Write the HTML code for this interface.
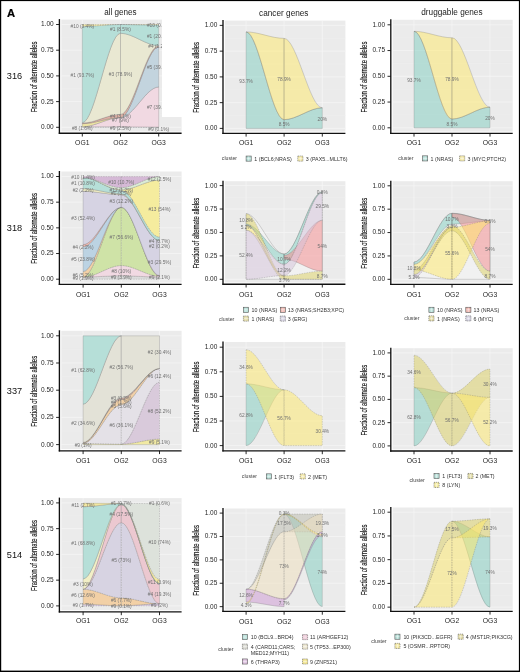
<!DOCTYPE html><html><head><meta charset="utf-8"><title>Figure A</title><style>html,body{margin:0;padding:0;background:#fff}svg{display:block;will-change:transform}text{font-family:"Liberation Sans", sans-serif}</style></head><body>
<svg width="520" height="672" viewBox="0 0 520 672">
<rect x="0" y="0" width="520" height="672" fill="#fff"/>
<rect x="61.3" y="19.6" width="120.3" height="111.9" fill="#ebebeb"/>
<line x1="61.3" x2="181.6" y1="114.45" y2="114.45" stroke="#f1f1f1" stroke-width="0.4"/>
<line x1="61.3" x2="181.6" y1="88.75" y2="88.75" stroke="#f1f1f1" stroke-width="0.4"/>
<line x1="61.3" x2="181.6" y1="63.05" y2="63.05" stroke="#f1f1f1" stroke-width="0.4"/>
<line x1="61.3" x2="181.6" y1="37.35" y2="37.35" stroke="#f1f1f1" stroke-width="0.4"/>
<line x1="61.3" x2="181.6" y1="127.3" y2="127.3" stroke="#f6f6f6" stroke-width="0.75"/>
<line x1="61.3" x2="181.6" y1="101.6" y2="101.6" stroke="#f6f6f6" stroke-width="0.75"/>
<line x1="61.3" x2="181.6" y1="75.9" y2="75.9" stroke="#f6f6f6" stroke-width="0.75"/>
<line x1="61.3" x2="181.6" y1="50.2" y2="50.2" stroke="#f6f6f6" stroke-width="0.75"/>
<line x1="61.3" x2="181.6" y1="24.5" y2="24.5" stroke="#f6f6f6" stroke-width="0.75"/>
<line x1="82.3" x2="82.3" y1="19.6" y2="131.5" stroke="#f6f6f6" stroke-width="0.75"/>
<line x1="120.5" x2="120.5" y1="19.6" y2="131.5" stroke="#f6f6f6" stroke-width="0.75"/>
<line x1="158.7" x2="158.7" y1="19.6" y2="131.5" stroke="#f6f6f6" stroke-width="0.75"/>
<path d="M82.3 126.79 C95.03 126.79 107.77 126.79 120.5 126.79 L120.5 127.3 C107.77 127.3 95.03 127.3 82.3 127.3 Z" fill="#e2dbe8" fill-opacity="1.0" stroke="#6e6e6e" stroke-opacity="0.6" stroke-width="0.45" stroke-dasharray="1.6 0.9"/>
<path d="M120.5 126.79 C133.23 126.79 145.97 127.09 158.7 127.09 L158.7 127.3 C145.97 127.3 133.23 127.3 120.5 127.3 Z" fill="#e2dbe8" fill-opacity="1.0" stroke="#6e6e6e" stroke-opacity="0.6" stroke-width="0.45" stroke-dasharray="1.6 0.9"/>
<path d="M82.3 126.79 C95.03 126.79 107.77 117.53 120.5 117.53 L120.5 126.79 C107.77 126.79 95.03 126.79 82.3 126.79 Z" fill="#f1d9e2" fill-opacity="1.0" stroke="#6e6e6e" stroke-opacity="0.6" stroke-width="0.45"/>
<path d="M120.5 117.53 C133.23 117.53 145.97 87 158.7 87 L158.7 127.09 C145.97 127.09 133.23 126.79 120.5 126.79 Z" fill="#f1d9e2" fill-opacity="1.0" stroke="#6e6e6e" stroke-opacity="0.6" stroke-width="0.45"/>
<path d="M82.3 123.7 C95.03 123.7 107.77 117.53 120.5 117.53 L120.5 117.53 C107.77 117.53 95.03 126.79 82.3 126.79 Z" fill="#eee4a4" fill-opacity="1.0" stroke="#6e6e6e" stroke-opacity="0.6" stroke-width="0.45"/>
<path d="M120.5 117.53 C133.23 117.53 145.97 46.91 158.7 46.91 L158.7 87 C145.97 87 133.23 117.53 120.5 117.53 Z" fill="#c3d4de" fill-opacity="1.0" stroke="#6e6e6e" stroke-opacity="0.6" stroke-width="0.45"/>
<path d="M82.3 123.09 C95.03 123.09 107.77 114.35 120.5 114.35 L120.5 117.53 C107.77 117.53 95.03 123.7 82.3 123.7 Z" fill="#dcb0a4" fill-opacity="1.0" stroke="#6e6e6e" stroke-opacity="0.6" stroke-width="0.45"/>
<path d="M120.5 114.35 C133.23 114.35 145.97 45.68 158.7 45.68 L158.7 46.91 C145.97 46.91 133.23 117.53 120.5 117.53 Z" fill="#dcb0a4" fill-opacity="1.0" stroke="#6e6e6e" stroke-opacity="0.6" stroke-width="0.45"/>
<path d="M82.3 122.67 C95.03 122.67 107.77 33.24 120.5 33.24 L120.5 114.35 C107.77 114.35 95.03 123.09 82.3 123.09 Z" fill="#e9e8d2" fill-opacity="1.0" stroke="#6e6e6e" stroke-opacity="0.6" stroke-width="0.45"/>
<path d="M120.5 33.24 C133.23 33.24 145.97 45.68 158.7 45.68 L158.7 45.68 C145.97 45.68 133.23 114.35 120.5 114.35 Z" fill="#e9e8d2" fill-opacity="1.0" stroke="#6e6e6e" stroke-opacity="0.6" stroke-width="0.45"/>
<path d="M82.3 26.35 C95.03 26.35 107.77 24.5 120.5 24.5 L120.5 33.24 C107.77 33.24 95.03 122.67 82.3 122.67 Z" fill="#b6dfd8" fill-opacity="1.0" stroke="#6e6e6e" stroke-opacity="0.6" stroke-width="0.45"/>
<path d="M120.5 24.5 C133.23 24.5 145.97 25.12 158.7 25.12 L158.7 45.68 C145.97 45.68 133.23 33.24 120.5 33.24 Z" fill="#b6dfd8" fill-opacity="1.0" stroke="#6e6e6e" stroke-opacity="0.6" stroke-width="0.45"/>
<path d="M82.3 24.5 C95.03 24.5 107.77 24.5 120.5 24.5 L120.5 24.5 C107.77 24.5 95.03 26.35 82.3 26.35 Z" fill="#f0e6a0" fill-opacity="1.0" stroke="#6e6e6e" stroke-opacity="0.6" stroke-width="0.45" stroke-dasharray="1.6 0.9"/>
<path d="M120.5 24.5 C133.23 24.5 145.97 24.5 158.7 24.5 L158.7 25.12 C145.97 25.12 133.23 24.5 120.5 24.5 Z" fill="#f0e6a0" fill-opacity="1.0" stroke="#6e6e6e" stroke-opacity="0.6" stroke-width="0.45" stroke-dasharray="1.6 0.9"/>
<text x="120.5" y="128" font-size="4.8" fill="#707070" text-anchor="middle" dominant-baseline="central">#9 (2.5%)</text>
<text x="158.7" y="129.03" font-size="4.8" fill="#707070" text-anchor="middle" dominant-baseline="central">#9 (0.1%)</text>
<text x="120.5" y="120.6" font-size="4.8" fill="#707070" text-anchor="middle" dominant-baseline="central">#7 (9%)</text>
<text x="158.7" y="107.75" font-size="4.8" fill="#707070" text-anchor="middle" dominant-baseline="central">#7 (39.1%)</text>
<text x="82.3" y="128" font-size="4.8" fill="#707070" text-anchor="middle" dominant-baseline="central">#8 (1.6%)</text>
<text x="158.7" y="67.66" font-size="4.8" fill="#707070" text-anchor="middle" dominant-baseline="central">#5 (39.1%)</text>
<text x="120.5" y="116.08" font-size="4.8" fill="#707070" text-anchor="middle" dominant-baseline="central">#4 (3.1%)</text>
<text x="158.7" y="46.07" font-size="4.8" fill="#707070" text-anchor="middle" dominant-baseline="central">#4 (1.2%)</text>
<text x="120.5" y="74.49" font-size="4.8" fill="#707070" text-anchor="middle" dominant-baseline="central">#3 (78.9%)</text>
<text x="82.3" y="75.21" font-size="4.8" fill="#707070" text-anchor="middle" dominant-baseline="central">#1 (93.7%)</text>
<text x="120.5" y="29.57" font-size="4.8" fill="#707070" text-anchor="middle" dominant-baseline="central">#1 (8.5%)</text>
<text x="158.7" y="36.1" font-size="4.8" fill="#707070" text-anchor="middle" dominant-baseline="central">#1 (20.1%)</text>
<text x="82.3" y="26.02" font-size="4.8" fill="#707070" text-anchor="middle" dominant-baseline="central">#10 (3.4%)</text>
<text x="158.7" y="25.51" font-size="4.8" fill="#707070" text-anchor="middle" dominant-baseline="central">#10 (0.6%)</text>
<line x1="59.4" x2="59.4" y1="19.1" y2="133.85" stroke="#111" stroke-width="1.35"/>
<line x1="58.75" x2="181.6" y1="133.2" y2="133.2" stroke="#111" stroke-width="1.35"/>
<line x1="56.1" x2="59.4" y1="127.3" y2="127.3" stroke="#111" stroke-width="0.9"/>
<text x="53.7" y="126.7" font-size="6.5" fill="#262626" text-anchor="end" dominant-baseline="central">0.00</text>
<line x1="56.1" x2="59.4" y1="101.6" y2="101.6" stroke="#111" stroke-width="0.9"/>
<text x="53.7" y="101" font-size="6.5" fill="#262626" text-anchor="end" dominant-baseline="central">0.25</text>
<line x1="56.1" x2="59.4" y1="75.9" y2="75.9" stroke="#111" stroke-width="0.9"/>
<text x="53.7" y="75.3" font-size="6.5" fill="#262626" text-anchor="end" dominant-baseline="central">0.50</text>
<line x1="56.1" x2="59.4" y1="50.2" y2="50.2" stroke="#111" stroke-width="0.9"/>
<text x="53.7" y="49.6" font-size="6.5" fill="#262626" text-anchor="end" dominant-baseline="central">0.75</text>
<line x1="56.1" x2="59.4" y1="24.5" y2="24.5" stroke="#111" stroke-width="0.9"/>
<text x="53.7" y="23.9" font-size="6.5" fill="#262626" text-anchor="end" dominant-baseline="central">1.00</text>
<line x1="82.3" x2="82.3" y1="133.2" y2="136.5" stroke="#111" stroke-width="0.9"/>
<text x="82.3" y="142.3" font-size="6.8" fill="#262626" text-anchor="middle" dominant-baseline="central">OG1</text>
<line x1="120.5" x2="120.5" y1="133.2" y2="136.5" stroke="#111" stroke-width="0.9"/>
<text x="120.5" y="142.3" font-size="6.8" fill="#262626" text-anchor="middle" dominant-baseline="central">OG2</text>
<line x1="158.7" x2="158.7" y1="133.2" y2="136.5" stroke="#111" stroke-width="0.9"/>
<text x="158.7" y="142.3" font-size="6.8" fill="#262626" text-anchor="middle" dominant-baseline="central">OG3</text>
<text transform="translate(33.6 76.9) rotate(-90)" font-size="8.6" fill="#141414" stroke="#141414" stroke-width="0.15" text-anchor="middle" dominant-baseline="central" textLength="70.8" lengthAdjust="spacingAndGlyphs">Fraction of alternate alleles</text>
<rect x="162" y="15" width="28" height="102" fill="#fff"/>
<rect x="224.9" y="20.6" width="120.5" height="111" fill="#ebebeb"/>
<line x1="224.9" x2="345.4" y1="115.53" y2="115.53" stroke="#f1f1f1" stroke-width="0.4"/>
<line x1="224.9" x2="345.4" y1="89.78" y2="89.78" stroke="#f1f1f1" stroke-width="0.4"/>
<line x1="224.9" x2="345.4" y1="64.03" y2="64.03" stroke="#f1f1f1" stroke-width="0.4"/>
<line x1="224.9" x2="345.4" y1="38.28" y2="38.28" stroke="#f1f1f1" stroke-width="0.4"/>
<line x1="224.9" x2="345.4" y1="128.4" y2="128.4" stroke="#f6f6f6" stroke-width="0.75"/>
<line x1="224.9" x2="345.4" y1="102.65" y2="102.65" stroke="#f6f6f6" stroke-width="0.75"/>
<line x1="224.9" x2="345.4" y1="76.9" y2="76.9" stroke="#f6f6f6" stroke-width="0.75"/>
<line x1="224.9" x2="345.4" y1="51.15" y2="51.15" stroke="#f6f6f6" stroke-width="0.75"/>
<line x1="224.9" x2="345.4" y1="25.4" y2="25.4" stroke="#f6f6f6" stroke-width="0.75"/>
<line x1="246.1" x2="246.1" y1="20.6" y2="131.6" stroke="#f6f6f6" stroke-width="0.75"/>
<line x1="284.1" x2="284.1" y1="20.6" y2="131.6" stroke="#f6f6f6" stroke-width="0.75"/>
<line x1="322.3" x2="322.3" y1="20.6" y2="131.6" stroke="#f6f6f6" stroke-width="0.75"/>
<path d="M246.1 31.89 C258.77 31.89 271.43 119.65 284.1 119.65 L284.1 128.4 C271.43 128.4 258.77 128.4 246.1 128.4 Z" fill="#80cdbf" fill-opacity="0.5" stroke="#6e6e6e" stroke-opacity="0.6" stroke-width="0.45"/>
<path d="M284.1 119.65 C296.83 119.65 309.57 107.8 322.3 107.8 L322.3 128.4 C309.57 128.4 296.83 128.4 284.1 128.4 Z" fill="#80cdbf" fill-opacity="0.5" stroke="#6e6e6e" stroke-opacity="0.6" stroke-width="0.45"/>
<path d="M246.1 31.89 C258.77 31.89 271.43 38.38 284.1 38.38 L284.1 119.65 C271.43 119.65 258.77 31.89 246.1 31.89 Z" fill="#ffe968" fill-opacity="0.5" stroke="#6e6e6e" stroke-opacity="0.6" stroke-width="0.45"/>
<path d="M284.1 38.38 C296.83 38.38 309.57 107.8 322.3 107.8 L322.3 107.8 C309.57 107.8 296.83 119.65 284.1 119.65 Z" fill="#ffe968" fill-opacity="0.5" stroke="#6e6e6e" stroke-opacity="0.6" stroke-width="0.45"/>
<text x="246.1" y="81.2" font-size="4.8" fill="#707070" text-anchor="middle" dominant-baseline="central">93.7%</text>
<text x="284.1" y="79.66" font-size="4.8" fill="#707070" text-anchor="middle" dominant-baseline="central">78.9%</text>
<text x="284.1" y="124.98" font-size="4.8" fill="#707070" text-anchor="middle" dominant-baseline="central">8.5%</text>
<text x="322.3" y="119.32" font-size="4.8" fill="#707070" text-anchor="middle" dominant-baseline="central">20%</text>
<line x1="223" x2="223" y1="20.1" y2="133.95" stroke="#111" stroke-width="1.35"/>
<line x1="222.35" x2="345.4" y1="133.3" y2="133.3" stroke="#111" stroke-width="1.35"/>
<line x1="219.7" x2="223" y1="128.4" y2="128.4" stroke="#111" stroke-width="0.9"/>
<text x="217.3" y="127.8" font-size="6.5" fill="#262626" text-anchor="end" dominant-baseline="central">0.00</text>
<line x1="219.7" x2="223" y1="102.65" y2="102.65" stroke="#111" stroke-width="0.9"/>
<text x="217.3" y="102.05" font-size="6.5" fill="#262626" text-anchor="end" dominant-baseline="central">0.25</text>
<line x1="219.7" x2="223" y1="76.9" y2="76.9" stroke="#111" stroke-width="0.9"/>
<text x="217.3" y="76.3" font-size="6.5" fill="#262626" text-anchor="end" dominant-baseline="central">0.50</text>
<line x1="219.7" x2="223" y1="51.15" y2="51.15" stroke="#111" stroke-width="0.9"/>
<text x="217.3" y="50.55" font-size="6.5" fill="#262626" text-anchor="end" dominant-baseline="central">0.75</text>
<line x1="219.7" x2="223" y1="25.4" y2="25.4" stroke="#111" stroke-width="0.9"/>
<text x="217.3" y="24.8" font-size="6.5" fill="#262626" text-anchor="end" dominant-baseline="central">1.00</text>
<line x1="246.1" x2="246.1" y1="133.3" y2="136.6" stroke="#111" stroke-width="0.9"/>
<text x="246.1" y="142.4" font-size="6.8" fill="#262626" text-anchor="middle" dominant-baseline="central">OG1</text>
<line x1="284.1" x2="284.1" y1="133.3" y2="136.6" stroke="#111" stroke-width="0.9"/>
<text x="284.1" y="142.4" font-size="6.8" fill="#262626" text-anchor="middle" dominant-baseline="central">OG2</text>
<line x1="322.3" x2="322.3" y1="133.3" y2="136.6" stroke="#111" stroke-width="0.9"/>
<text x="322.3" y="142.4" font-size="6.8" fill="#262626" text-anchor="middle" dominant-baseline="central">OG3</text>
<text transform="translate(196.2 77.45) rotate(-90)" font-size="8.6" fill="#141414" stroke="#141414" stroke-width="0.15" text-anchor="middle" dominant-baseline="central" textLength="70.8" lengthAdjust="spacingAndGlyphs">Fraction of alternate alleles</text>
<rect x="392.7" y="19.8" width="120" height="111.8" fill="#ebebeb"/>
<line x1="392.7" x2="512.7" y1="114.92" y2="114.92" stroke="#f1f1f1" stroke-width="0.4"/>
<line x1="392.7" x2="512.7" y1="89.17" y2="89.17" stroke="#f1f1f1" stroke-width="0.4"/>
<line x1="392.7" x2="512.7" y1="63.42" y2="63.42" stroke="#f1f1f1" stroke-width="0.4"/>
<line x1="392.7" x2="512.7" y1="37.67" y2="37.67" stroke="#f1f1f1" stroke-width="0.4"/>
<line x1="392.7" x2="512.7" y1="127.8" y2="127.8" stroke="#f6f6f6" stroke-width="0.75"/>
<line x1="392.7" x2="512.7" y1="102.05" y2="102.05" stroke="#f6f6f6" stroke-width="0.75"/>
<line x1="392.7" x2="512.7" y1="76.3" y2="76.3" stroke="#f6f6f6" stroke-width="0.75"/>
<line x1="392.7" x2="512.7" y1="50.55" y2="50.55" stroke="#f6f6f6" stroke-width="0.75"/>
<line x1="392.7" x2="512.7" y1="24.8" y2="24.8" stroke="#f6f6f6" stroke-width="0.75"/>
<line x1="414" x2="414" y1="19.8" y2="131.6" stroke="#f6f6f6" stroke-width="0.75"/>
<line x1="452" x2="452" y1="19.8" y2="131.6" stroke="#f6f6f6" stroke-width="0.75"/>
<line x1="490" x2="490" y1="19.8" y2="131.6" stroke="#f6f6f6" stroke-width="0.75"/>
<path d="M414 31.29 C426.67 31.29 439.33 119.05 452 119.05 L452 127.8 C439.33 127.8 426.67 127.8 414 127.8 Z" fill="#80cdbf" fill-opacity="0.5" stroke="#6e6e6e" stroke-opacity="0.6" stroke-width="0.45"/>
<path d="M452 119.05 C464.67 119.05 477.33 107.2 490 107.2 L490 127.8 C477.33 127.8 464.67 127.8 452 127.8 Z" fill="#80cdbf" fill-opacity="0.5" stroke="#6e6e6e" stroke-opacity="0.6" stroke-width="0.45"/>
<path d="M414 31.29 C426.67 31.29 439.33 37.78 452 37.78 L452 119.05 C439.33 119.05 426.67 31.29 414 31.29 Z" fill="#ffe968" fill-opacity="0.5" stroke="#6e6e6e" stroke-opacity="0.6" stroke-width="0.45"/>
<path d="M452 37.78 C464.67 37.78 477.33 107.2 490 107.2 L490 107.2 C477.33 107.2 464.67 119.05 452 119.05 Z" fill="#ffe968" fill-opacity="0.5" stroke="#6e6e6e" stroke-opacity="0.6" stroke-width="0.45"/>
<text x="414" y="80.61" font-size="4.8" fill="#707070" text-anchor="middle" dominant-baseline="central">93.7%</text>
<text x="452" y="79.06" font-size="4.8" fill="#707070" text-anchor="middle" dominant-baseline="central">78.9%</text>
<text x="452" y="124.38" font-size="4.8" fill="#707070" text-anchor="middle" dominant-baseline="central">8.5%</text>
<text x="490" y="118.72" font-size="4.8" fill="#707070" text-anchor="middle" dominant-baseline="central">20%</text>
<line x1="390.8" x2="390.8" y1="19.3" y2="133.95" stroke="#111" stroke-width="1.35"/>
<line x1="390.15" x2="512.7" y1="133.3" y2="133.3" stroke="#111" stroke-width="1.35"/>
<line x1="387.5" x2="390.8" y1="127.8" y2="127.8" stroke="#111" stroke-width="0.9"/>
<text x="385.1" y="127.2" font-size="6.5" fill="#262626" text-anchor="end" dominant-baseline="central">0.00</text>
<line x1="387.5" x2="390.8" y1="102.05" y2="102.05" stroke="#111" stroke-width="0.9"/>
<text x="385.1" y="101.45" font-size="6.5" fill="#262626" text-anchor="end" dominant-baseline="central">0.25</text>
<line x1="387.5" x2="390.8" y1="76.3" y2="76.3" stroke="#111" stroke-width="0.9"/>
<text x="385.1" y="75.7" font-size="6.5" fill="#262626" text-anchor="end" dominant-baseline="central">0.50</text>
<line x1="387.5" x2="390.8" y1="50.55" y2="50.55" stroke="#111" stroke-width="0.9"/>
<text x="385.1" y="49.95" font-size="6.5" fill="#262626" text-anchor="end" dominant-baseline="central">0.75</text>
<line x1="387.5" x2="390.8" y1="24.8" y2="24.8" stroke="#111" stroke-width="0.9"/>
<text x="385.1" y="24.2" font-size="6.5" fill="#262626" text-anchor="end" dominant-baseline="central">1.00</text>
<line x1="414" x2="414" y1="133.3" y2="136.6" stroke="#111" stroke-width="0.9"/>
<text x="414" y="142.4" font-size="6.8" fill="#262626" text-anchor="middle" dominant-baseline="central">OG1</text>
<line x1="452" x2="452" y1="133.3" y2="136.6" stroke="#111" stroke-width="0.9"/>
<text x="452" y="142.4" font-size="6.8" fill="#262626" text-anchor="middle" dominant-baseline="central">OG2</text>
<line x1="490" x2="490" y1="133.3" y2="136.6" stroke="#111" stroke-width="0.9"/>
<text x="490" y="142.4" font-size="6.8" fill="#262626" text-anchor="middle" dominant-baseline="central">OG3</text>
<text transform="translate(363.6 77.05) rotate(-90)" font-size="8.6" fill="#141414" stroke="#141414" stroke-width="0.15" text-anchor="middle" dominant-baseline="central" textLength="70.8" lengthAdjust="spacingAndGlyphs">Fraction of alternate alleles</text>
<text x="221.8" y="157.8" font-size="5.2" fill="#444" dominant-baseline="central">cluster</text>
<rect x="246.1" y="156.05" width="5.1" height="5.1" fill="#b6dfd8" stroke="#555" stroke-width="0.6"/>
<line x1="248.65" x2="248.65" y1="156.4" y2="160.8" stroke="#fff" stroke-opacity="0.85" stroke-width="0.5"/>
<line x1="246.5" x2="250.8" y1="158.6" y2="158.6" stroke="#fff" stroke-opacity="0.85" stroke-width="0.5"/>
<text x="254.3" y="158.7" font-size="5.3" fill="#333" dominant-baseline="central">1 (BCL6;NRAS)</text>
<rect x="297.8" y="156.05" width="5.1" height="5.1" fill="#f5eaa9" stroke="#555" stroke-width="0.6" stroke-dasharray="1.1 0.8"/>
<line x1="300.35" x2="300.35" y1="156.4" y2="160.8" stroke="#fff" stroke-opacity="0.85" stroke-width="0.5"/>
<line x1="298.2" x2="302.5" y1="158.6" y2="158.6" stroke="#fff" stroke-opacity="0.85" stroke-width="0.5"/>
<text x="305.8" y="158.7" font-size="5.3" fill="#333" dominant-baseline="central">3 (PAX5...MLLT6)</text>
<text x="398.2" y="157.6" font-size="5.2" fill="#444" dominant-baseline="central">cluster</text>
<rect x="422.6" y="155.85" width="5.1" height="5.1" fill="#b6dfd8" stroke="#555" stroke-width="0.6"/>
<line x1="425.15" x2="425.15" y1="156.2" y2="160.6" stroke="#fff" stroke-opacity="0.85" stroke-width="0.5"/>
<line x1="423" x2="427.3" y1="158.4" y2="158.4" stroke="#fff" stroke-opacity="0.85" stroke-width="0.5"/>
<text x="430.6" y="158.5" font-size="5.3" fill="#333" dominant-baseline="central">1 (NRAS)</text>
<rect x="459.6" y="155.85" width="5.1" height="5.1" fill="#f5eaa9" stroke="#555" stroke-width="0.6" stroke-dasharray="1.1 0.8"/>
<line x1="462.15" x2="462.15" y1="156.2" y2="160.6" stroke="#fff" stroke-opacity="0.85" stroke-width="0.5"/>
<line x1="460" x2="464.3" y1="158.4" y2="158.4" stroke="#fff" stroke-opacity="0.85" stroke-width="0.5"/>
<text x="467.4" y="158.5" font-size="5.3" fill="#333" dominant-baseline="central">3 (MYC;PTCH2)</text>
<rect x="61.3" y="171.5" width="120.3" height="111.1" fill="#ebebeb"/>
<line x1="61.3" x2="181.6" y1="266.36" y2="266.36" stroke="#f1f1f1" stroke-width="0.4"/>
<line x1="61.3" x2="181.6" y1="240.69" y2="240.69" stroke="#f1f1f1" stroke-width="0.4"/>
<line x1="61.3" x2="181.6" y1="215.01" y2="215.01" stroke="#f1f1f1" stroke-width="0.4"/>
<line x1="61.3" x2="181.6" y1="189.34" y2="189.34" stroke="#f1f1f1" stroke-width="0.4"/>
<line x1="61.3" x2="181.6" y1="279.2" y2="279.2" stroke="#f6f6f6" stroke-width="0.75"/>
<line x1="61.3" x2="181.6" y1="253.52" y2="253.52" stroke="#f6f6f6" stroke-width="0.75"/>
<line x1="61.3" x2="181.6" y1="227.85" y2="227.85" stroke="#f6f6f6" stroke-width="0.75"/>
<line x1="61.3" x2="181.6" y1="202.18" y2="202.18" stroke="#f6f6f6" stroke-width="0.75"/>
<line x1="61.3" x2="181.6" y1="176.5" y2="176.5" stroke="#f6f6f6" stroke-width="0.75"/>
<line x1="83.1" x2="83.1" y1="171.5" y2="282.6" stroke="#f6f6f6" stroke-width="0.75"/>
<line x1="121.3" x2="121.3" y1="171.5" y2="282.6" stroke="#f6f6f6" stroke-width="0.75"/>
<line x1="159.5" x2="159.5" y1="171.5" y2="282.6" stroke="#f6f6f6" stroke-width="0.75"/>
<path d="M83.1 277.15 C95.83 277.15 108.57 275.71 121.3 275.71 L121.3 279.2 C108.57 279.2 95.83 279.2 83.1 279.2 Z" fill="#dcdcdc" fill-opacity="1.0" stroke="#6e6e6e" stroke-opacity="0.6" stroke-width="0.45" stroke-dasharray="1.6 0.9"/>
<path d="M121.3 275.71 C134.03 275.71 146.77 277.15 159.5 277.15 L159.5 279.2 C146.77 279.2 134.03 279.2 121.3 279.2 Z" fill="#dcdcdc" fill-opacity="1.0" stroke="#6e6e6e" stroke-opacity="0.6" stroke-width="0.45" stroke-dasharray="1.6 0.9"/>
<path d="M83.1 277.15 C95.83 277.15 108.57 265.44 121.3 265.44 L121.3 275.71 C108.57 275.71 95.83 277.15 83.1 277.15 Z" fill="#f1d9e2" fill-opacity="1.0" stroke="#6e6e6e" stroke-opacity="0.6" stroke-width="0.45"/>
<path d="M121.3 265.44 C134.03 265.44 146.77 276.12 159.5 276.12 L159.5 277.15 C146.77 277.15 134.03 275.71 121.3 275.71 Z" fill="#f1d9e2" fill-opacity="1.0" stroke="#6e6e6e" stroke-opacity="0.6" stroke-width="0.45"/>
<path d="M83.1 277.15 C95.83 277.15 108.57 207.31 121.3 207.31 L121.3 265.44 C108.57 265.44 95.83 277.15 83.1 277.15 Z" fill="#cfe3a7" fill-opacity="1.0" stroke="#6e6e6e" stroke-opacity="0.6" stroke-width="0.45" stroke-dasharray="1.6 0.9"/>
<path d="M121.3 207.31 C134.03 207.31 146.77 276.12 159.5 276.12 L159.5 276.12 C146.77 276.12 134.03 265.44 121.3 265.44 Z" fill="#cfe3a7" fill-opacity="1.0" stroke="#6e6e6e" stroke-opacity="0.6" stroke-width="0.45" stroke-dasharray="1.6 0.9"/>
<path d="M83.1 271.5 C95.83 271.5 108.57 207.31 121.3 207.31 L121.3 207.31 C108.57 207.31 95.83 277.15 83.1 277.15 Z" fill="#f2d0a6" fill-opacity="1.0" stroke="#6e6e6e" stroke-opacity="0.6" stroke-width="0.45"/>
<path d="M83.1 246.85 C95.83 246.85 108.57 207.31 121.3 207.31 L121.3 207.31 C108.57 207.31 95.83 271.5 83.1 271.5 Z" fill="#bcd3e3" fill-opacity="1.0" stroke="#6e6e6e" stroke-opacity="0.6" stroke-width="0.45"/>
<path d="M83.1 244.59 C95.83 244.59 108.57 207.31 121.3 207.31 L121.3 207.31 C108.57 207.31 95.83 246.85 83.1 246.85 Z" fill="#efb7b0" fill-opacity="1.0" stroke="#6e6e6e" stroke-opacity="0.6" stroke-width="0.45"/>
<path d="M121.3 207.31 C134.03 207.31 146.77 275.61 159.5 275.61 L159.5 276.12 C146.77 276.12 134.03 207.31 121.3 207.31 Z" fill="#efb7b0" fill-opacity="1.0" stroke="#6e6e6e" stroke-opacity="0.6" stroke-width="0.45"/>
<path d="M83.1 191.19 C95.83 191.19 108.57 194.78 121.3 194.78 L121.3 207.31 C108.57 207.31 95.83 244.59 83.1 244.59 Z" fill="#d6d3e3" fill-opacity="1.0" stroke="#6e6e6e" stroke-opacity="0.6" stroke-width="0.45"/>
<path d="M121.3 194.78 C134.03 194.78 146.77 240.69 159.5 240.69 L159.5 275.61 C146.77 275.61 134.03 207.31 121.3 207.31 Z" fill="#d6d3e3" fill-opacity="1.0" stroke="#6e6e6e" stroke-opacity="0.6" stroke-width="0.45"/>
<path d="M83.1 188.62 C95.83 188.62 108.57 193.96 121.3 193.96 L121.3 194.78 C108.57 194.78 95.83 191.19 83.1 191.19 Z" fill="#f2efc6" fill-opacity="1.0" stroke="#6e6e6e" stroke-opacity="0.6" stroke-width="0.45"/>
<path d="M121.3 193.96 C134.03 193.96 146.77 240.48 159.5 240.48 L159.5 240.69 C146.77 240.69 134.03 194.78 121.3 194.78 Z" fill="#f2efc6" fill-opacity="1.0" stroke="#6e6e6e" stroke-opacity="0.6" stroke-width="0.45"/>
<path d="M83.1 177.53 C95.83 177.53 108.57 190.36 121.3 190.36 L121.3 193.96 C108.57 193.96 95.83 188.62 83.1 188.62 Z" fill="#b6dfd8" fill-opacity="1.0" stroke="#6e6e6e" stroke-opacity="0.6" stroke-width="0.45"/>
<path d="M121.3 190.36 C134.03 190.36 146.77 237.09 159.5 237.09 L159.5 240.48 C146.77 240.48 134.03 193.96 121.3 193.96 Z" fill="#b6dfd8" fill-opacity="1.0" stroke="#6e6e6e" stroke-opacity="0.6" stroke-width="0.45"/>
<path d="M83.1 177.53 C95.83 177.53 108.57 189.85 121.3 189.85 L121.3 190.36 C108.57 190.36 95.83 177.53 83.1 177.53 Z" fill="#f5ec9e" fill-opacity="1.0" stroke="#6e6e6e" stroke-opacity="0.6" stroke-width="0.45" stroke-dasharray="1.6 0.9"/>
<path d="M121.3 189.85 C134.03 189.85 146.77 180.09 159.5 180.09 L159.5 237.09 C146.77 237.09 134.03 190.36 121.3 190.36 Z" fill="#f5ec9e" fill-opacity="1.0" stroke="#6e6e6e" stroke-opacity="0.6" stroke-width="0.45" stroke-dasharray="1.6 0.9"/>
<path d="M83.1 177.53 C95.83 177.53 108.57 187.59 121.3 187.59 L121.3 189.85 C108.57 189.85 95.83 177.53 83.1 177.53 Z" fill="#dbecd6" fill-opacity="1.0" stroke="#6e6e6e" stroke-opacity="0.6" stroke-width="0.45"/>
<path d="M121.3 187.59 C134.03 187.59 146.77 176.5 159.5 176.5 L159.5 180.09 C146.77 180.09 134.03 189.85 121.3 189.85 Z" fill="#dbecd6" fill-opacity="1.0" stroke="#6e6e6e" stroke-opacity="0.6" stroke-width="0.45"/>
<path d="M83.1 176.5 C95.83 176.5 108.57 176.6 121.3 176.6 L121.3 187.59 C108.57 187.59 95.83 177.53 83.1 177.53 Z" fill="#d5b9d6" fill-opacity="1.0" stroke="#6e6e6e" stroke-opacity="0.6" stroke-width="0.45" stroke-dasharray="1.6 0.9"/>
<path d="M121.3 176.6 C134.03 176.6 146.77 176.5 159.5 176.5 L159.5 176.5 C146.77 176.5 134.03 187.59 121.3 187.59 Z" fill="#d5b9d6" fill-opacity="1.0" stroke="#6e6e6e" stroke-opacity="0.6" stroke-width="0.45" stroke-dasharray="1.6 0.9"/>
<text x="83.1" y="278.87" font-size="4.8" fill="#707070" text-anchor="middle" dominant-baseline="central">#9 (1.9%)</text>
<text x="121.3" y="277.85" font-size="4.8" fill="#707070" text-anchor="middle" dominant-baseline="central">#9 (3.9%)</text>
<text x="159.5" y="277.64" font-size="4.8" fill="#707070" text-anchor="middle" dominant-baseline="central">#9 (2.1%)</text>
<text x="121.3" y="271.27" font-size="4.8" fill="#707070" text-anchor="middle" dominant-baseline="central">#8 (10%)</text>
<text x="121.3" y="237.07" font-size="4.8" fill="#707070" text-anchor="middle" dominant-baseline="central">#7 (56.6%)</text>
<text x="83.1" y="275.02" font-size="4.8" fill="#707070" text-anchor="middle" dominant-baseline="central">#6 (5.2%)</text>
<text x="83.1" y="259.87" font-size="4.8" fill="#707070" text-anchor="middle" dominant-baseline="central">#5 (23.8%)</text>
<text x="83.1" y="247.14" font-size="4.8" fill="#707070" text-anchor="middle" dominant-baseline="central">#4 (2.2%)</text>
<text x="159.5" y="241.39" font-size="4.8" fill="#707070" text-anchor="middle" dominant-baseline="central">#4 (0.7%)</text>
<text x="83.1" y="218.59" font-size="4.8" fill="#707070" text-anchor="middle" dominant-baseline="central">#3 (52.4%)</text>
<text x="121.3" y="201.75" font-size="4.8" fill="#707070" text-anchor="middle" dominant-baseline="central">#3 (12.2%)</text>
<text x="159.5" y="262.44" font-size="4.8" fill="#707070" text-anchor="middle" dominant-baseline="central">#3 (29.5%)</text>
<text x="83.1" y="190.6" font-size="4.8" fill="#707070" text-anchor="middle" dominant-baseline="central">#2 (2.2%)</text>
<text x="159.5" y="246.52" font-size="4.8" fill="#707070" text-anchor="middle" dominant-baseline="central">#2 (0.2%)</text>
<text x="83.1" y="183.77" font-size="4.8" fill="#707070" text-anchor="middle" dominant-baseline="central">#1 (10.8%)</text>
<text x="121.3" y="193.12" font-size="4.8" fill="#707070" text-anchor="middle" dominant-baseline="central">#1 (3.5%)</text>
<text x="159.5" y="209.29" font-size="4.8" fill="#707070" text-anchor="middle" dominant-baseline="central">#13 (54%)</text>
<text x="121.3" y="190.55" font-size="4.8" fill="#707070" text-anchor="middle" dominant-baseline="central">#12 (1.2%)</text>
<text x="159.5" y="179" font-size="4.8" fill="#707070" text-anchor="middle" dominant-baseline="central">#12 (2.5%)</text>
<text x="83.1" y="177.92" font-size="4.8" fill="#707070" text-anchor="middle" dominant-baseline="central">#10 (1.4%)</text>
<text x="121.3" y="182.8" font-size="4.8" fill="#707070" text-anchor="middle" dominant-baseline="central">#10 (10.7%)</text>
<line x1="59.4" x2="59.4" y1="171" y2="284.95" stroke="#111" stroke-width="1.35"/>
<line x1="58.75" x2="181.6" y1="284.3" y2="284.3" stroke="#111" stroke-width="1.35"/>
<line x1="56.1" x2="59.4" y1="279.2" y2="279.2" stroke="#111" stroke-width="0.9"/>
<text x="53.7" y="278.6" font-size="6.5" fill="#262626" text-anchor="end" dominant-baseline="central">0.00</text>
<line x1="56.1" x2="59.4" y1="253.52" y2="253.52" stroke="#111" stroke-width="0.9"/>
<text x="53.7" y="252.92" font-size="6.5" fill="#262626" text-anchor="end" dominant-baseline="central">0.25</text>
<line x1="56.1" x2="59.4" y1="227.85" y2="227.85" stroke="#111" stroke-width="0.9"/>
<text x="53.7" y="227.25" font-size="6.5" fill="#262626" text-anchor="end" dominant-baseline="central">0.50</text>
<line x1="56.1" x2="59.4" y1="202.18" y2="202.18" stroke="#111" stroke-width="0.9"/>
<text x="53.7" y="201.58" font-size="6.5" fill="#262626" text-anchor="end" dominant-baseline="central">0.75</text>
<line x1="56.1" x2="59.4" y1="176.5" y2="176.5" stroke="#111" stroke-width="0.9"/>
<text x="53.7" y="175.9" font-size="6.5" fill="#262626" text-anchor="end" dominant-baseline="central">1.00</text>
<line x1="83.1" x2="83.1" y1="284.3" y2="287.6" stroke="#111" stroke-width="0.9"/>
<text x="83.1" y="294" font-size="6.8" fill="#262626" text-anchor="middle" dominant-baseline="central">OG1</text>
<line x1="121.3" x2="121.3" y1="284.3" y2="287.6" stroke="#111" stroke-width="0.9"/>
<text x="121.3" y="294" font-size="6.8" fill="#262626" text-anchor="middle" dominant-baseline="central">OG2</text>
<line x1="159.5" x2="159.5" y1="284.3" y2="287.6" stroke="#111" stroke-width="0.9"/>
<text x="159.5" y="294" font-size="6.8" fill="#262626" text-anchor="middle" dominant-baseline="central">OG3</text>
<text transform="translate(33.6 228.4) rotate(-90)" font-size="8.6" fill="#141414" stroke="#141414" stroke-width="0.15" text-anchor="middle" dominant-baseline="central" textLength="70.8" lengthAdjust="spacingAndGlyphs">Fraction of alternate alleles</text>
<rect x="224.9" y="181.2" width="120.5" height="101.3" fill="#ebebeb"/>
<line x1="224.9" x2="345.4" y1="267.59" y2="267.59" stroke="#f1f1f1" stroke-width="0.4"/>
<line x1="224.9" x2="345.4" y1="244.16" y2="244.16" stroke="#f1f1f1" stroke-width="0.4"/>
<line x1="224.9" x2="345.4" y1="220.74" y2="220.74" stroke="#f1f1f1" stroke-width="0.4"/>
<line x1="224.9" x2="345.4" y1="197.31" y2="197.31" stroke="#f1f1f1" stroke-width="0.4"/>
<line x1="224.9" x2="345.4" y1="279.3" y2="279.3" stroke="#f6f6f6" stroke-width="0.75"/>
<line x1="224.9" x2="345.4" y1="255.88" y2="255.88" stroke="#f6f6f6" stroke-width="0.75"/>
<line x1="224.9" x2="345.4" y1="232.45" y2="232.45" stroke="#f6f6f6" stroke-width="0.75"/>
<line x1="224.9" x2="345.4" y1="209.03" y2="209.03" stroke="#f6f6f6" stroke-width="0.75"/>
<line x1="224.9" x2="345.4" y1="185.6" y2="185.6" stroke="#f6f6f6" stroke-width="0.75"/>
<line x1="246.1" x2="246.1" y1="181.2" y2="282.5" stroke="#f6f6f6" stroke-width="0.75"/>
<line x1="284.1" x2="284.1" y1="181.2" y2="282.5" stroke="#f6f6f6" stroke-width="0.75"/>
<line x1="322.3" x2="322.3" y1="181.2" y2="282.5" stroke="#f6f6f6" stroke-width="0.75"/>
<path d="M246.1 213.71 C258.77 213.71 271.43 254 284.1 254 L284.1 279.3 C271.43 279.3 258.77 279.3 246.1 279.3 Z" fill="#f8f8f8" fill-opacity="0.5" stroke="#6e6e6e" stroke-opacity="0.6" stroke-width="0.45"/>
<path d="M284.1 254 C296.83 254 309.57 191.88 322.3 191.88 L322.3 279.3 C309.57 279.3 296.83 279.3 284.1 279.3 Z" fill="#f8f8f8" fill-opacity="0.5" stroke="#6e6e6e" stroke-opacity="0.6" stroke-width="0.45"/>
<path d="M246.1 224.02 C258.77 224.02 271.43 254 284.1 254 L284.1 264.31 C271.43 264.31 258.77 225.33 246.1 225.33 Z" fill="#80cdbf" fill-opacity="0.5" stroke="#6e6e6e" stroke-opacity="0.6" stroke-width="0.45"/>
<path d="M284.1 254 C296.83 254 309.57 191.88 322.3 191.88 L322.3 192.63 C309.57 192.63 296.83 264.31 284.1 264.31 Z" fill="#80cdbf" fill-opacity="0.5" stroke="#6e6e6e" stroke-opacity="0.6" stroke-width="0.45"/>
<path d="M284.1 255.41 C296.83 255.41 309.57 220.27 322.3 220.27 L322.3 271.15 C309.57 271.15 296.83 259.15 284.1 259.15 Z" fill="#f38789" fill-opacity="0.5" stroke="#6e6e6e" stroke-opacity="0.6" stroke-width="0.45"/>
<path d="M246.1 225.33 C258.77 225.33 271.43 275.55 284.1 275.55 L284.1 276.49 C271.43 276.49 258.77 230.2 246.1 230.2 Z" fill="#ffe968" fill-opacity="0.5" stroke="#6e6e6e" stroke-opacity="0.6" stroke-width="0.45"/>
<path d="M246.1 213.71 C258.77 213.71 271.43 275.83 284.1 275.83 L284.1 279.3 C271.43 279.3 258.77 224.02 246.1 224.02 Z" fill="#dccf60" fill-opacity="0.5" stroke="#6e6e6e" stroke-opacity="0.6" stroke-width="0.45" stroke-dasharray="1.6 0.9"/>
<path d="M284.1 275.83 C296.83 275.83 309.57 271.15 322.3 271.15 L322.3 279.3 C309.57 279.3 296.83 279.3 284.1 279.3 Z" fill="#dccf60" fill-opacity="0.5" stroke="#6e6e6e" stroke-opacity="0.6" stroke-width="0.45" stroke-dasharray="1.6 0.9"/>
<path d="M246.1 230.2 C258.77 230.2 271.43 264.31 284.1 264.31 L284.1 275.55 C271.43 275.55 258.77 279.3 246.1 279.3 Z" fill="#d3c1d9" fill-opacity="0.5" stroke="#6e6e6e" stroke-opacity="0.6" stroke-width="0.45" stroke-dasharray="1.6 0.9"/>
<path d="M284.1 264.31 C296.83 264.31 309.57 192.63 322.3 192.63 L322.3 220.27 C309.57 220.27 296.83 275.55 284.1 275.55 Z" fill="#d3c1d9" fill-opacity="0.5" stroke="#6e6e6e" stroke-opacity="0.6" stroke-width="0.45" stroke-dasharray="1.6 0.9"/>
<text x="246.1" y="220.03" font-size="4.8" fill="#707070" text-anchor="middle" dominant-baseline="central">10.8%</text>
<text x="246.1" y="227.53" font-size="4.8" fill="#707070" text-anchor="middle" dominant-baseline="central">5.2%</text>
<text x="246.1" y="255.64" font-size="4.8" fill="#707070" text-anchor="middle" dominant-baseline="central">52.4%</text>
<text x="284.1" y="259.85" font-size="4.8" fill="#707070" text-anchor="middle" dominant-baseline="central">10.7%</text>
<text x="284.1" y="270.63" font-size="4.8" fill="#707070" text-anchor="middle" dominant-baseline="central">12.2%</text>
<text x="284.1" y="280" font-size="4.8" fill="#707070" text-anchor="middle" dominant-baseline="central">3.7%</text>
<text x="322.3" y="192.39" font-size="4.8" fill="#707070" text-anchor="middle" dominant-baseline="central">0.8%</text>
<text x="322.3" y="206.91" font-size="4.8" fill="#707070" text-anchor="middle" dominant-baseline="central">29.5%</text>
<text x="322.3" y="246.74" font-size="4.8" fill="#707070" text-anchor="middle" dominant-baseline="central">54%</text>
<text x="322.3" y="276.25" font-size="4.8" fill="#707070" text-anchor="middle" dominant-baseline="central">8.7%</text>
<line x1="223" x2="223" y1="180.7" y2="284.85" stroke="#111" stroke-width="1.35"/>
<line x1="222.35" x2="345.4" y1="284.2" y2="284.2" stroke="#111" stroke-width="1.35"/>
<line x1="219.7" x2="223" y1="279.3" y2="279.3" stroke="#111" stroke-width="0.9"/>
<text x="217.3" y="278.7" font-size="6.5" fill="#262626" text-anchor="end" dominant-baseline="central">0.00</text>
<line x1="219.7" x2="223" y1="255.88" y2="255.88" stroke="#111" stroke-width="0.9"/>
<text x="217.3" y="255.28" font-size="6.5" fill="#262626" text-anchor="end" dominant-baseline="central">0.25</text>
<line x1="219.7" x2="223" y1="232.45" y2="232.45" stroke="#111" stroke-width="0.9"/>
<text x="217.3" y="231.85" font-size="6.5" fill="#262626" text-anchor="end" dominant-baseline="central">0.50</text>
<line x1="219.7" x2="223" y1="209.03" y2="209.03" stroke="#111" stroke-width="0.9"/>
<text x="217.3" y="208.43" font-size="6.5" fill="#262626" text-anchor="end" dominant-baseline="central">0.75</text>
<line x1="219.7" x2="223" y1="185.6" y2="185.6" stroke="#111" stroke-width="0.9"/>
<text x="217.3" y="185" font-size="6.5" fill="#262626" text-anchor="end" dominant-baseline="central">1.00</text>
<line x1="246.1" x2="246.1" y1="284.2" y2="287.5" stroke="#111" stroke-width="0.9"/>
<text x="246.1" y="294" font-size="6.8" fill="#262626" text-anchor="middle" dominant-baseline="central">OG1</text>
<line x1="284.1" x2="284.1" y1="284.2" y2="287.5" stroke="#111" stroke-width="0.9"/>
<text x="284.1" y="294" font-size="6.8" fill="#262626" text-anchor="middle" dominant-baseline="central">OG2</text>
<line x1="322.3" x2="322.3" y1="284.2" y2="287.5" stroke="#111" stroke-width="0.9"/>
<text x="322.3" y="294" font-size="6.8" fill="#262626" text-anchor="middle" dominant-baseline="central">OG3</text>
<text transform="translate(196.2 233.2) rotate(-90)" font-size="8.6" fill="#141414" stroke="#141414" stroke-width="0.15" text-anchor="middle" dominant-baseline="central" textLength="70.8" lengthAdjust="spacingAndGlyphs">Fraction of alternate alleles</text>
<rect x="392.7" y="181.2" width="120" height="101.4" fill="#ebebeb"/>
<line x1="392.7" x2="512.7" y1="267.61" y2="267.61" stroke="#f1f1f1" stroke-width="0.4"/>
<line x1="392.7" x2="512.7" y1="244.24" y2="244.24" stroke="#f1f1f1" stroke-width="0.4"/>
<line x1="392.7" x2="512.7" y1="220.86" y2="220.86" stroke="#f1f1f1" stroke-width="0.4"/>
<line x1="392.7" x2="512.7" y1="197.49" y2="197.49" stroke="#f1f1f1" stroke-width="0.4"/>
<line x1="392.7" x2="512.7" y1="279.3" y2="279.3" stroke="#f6f6f6" stroke-width="0.75"/>
<line x1="392.7" x2="512.7" y1="255.93" y2="255.93" stroke="#f6f6f6" stroke-width="0.75"/>
<line x1="392.7" x2="512.7" y1="232.55" y2="232.55" stroke="#f6f6f6" stroke-width="0.75"/>
<line x1="392.7" x2="512.7" y1="209.18" y2="209.18" stroke="#f6f6f6" stroke-width="0.75"/>
<line x1="392.7" x2="512.7" y1="185.8" y2="185.8" stroke="#f6f6f6" stroke-width="0.75"/>
<line x1="414" x2="414" y1="181.2" y2="282.6" stroke="#f6f6f6" stroke-width="0.75"/>
<line x1="452" x2="452" y1="181.2" y2="282.6" stroke="#f6f6f6" stroke-width="0.75"/>
<line x1="490" x2="490" y1="181.2" y2="282.6" stroke="#f6f6f6" stroke-width="0.75"/>
<path d="M414 262 C426.67 262 439.33 213.2 452 213.2 L452 279.3 C439.33 279.3 426.67 277.43 414 277.43 Z" fill="#f8f8f8" fill-opacity="0.5" stroke="#6e6e6e" stroke-opacity="0.6" stroke-width="0.45"/>
<path d="M452 213.2 C464.67 213.2 477.33 220.4 490 220.4 L490 279.3 C477.33 279.3 464.67 279.3 452 279.3 Z" fill="#f8f8f8" fill-opacity="0.5" stroke="#6e6e6e" stroke-opacity="0.6" stroke-width="0.45"/>
<path d="M414 262 C426.67 262 439.33 213.38 452 213.38 L452 224.14 C439.33 224.14 426.67 264.34 414 264.34 Z" fill="#80cdbf" fill-opacity="0.5" stroke="#6e6e6e" stroke-opacity="0.6" stroke-width="0.45"/>
<path d="M452 213.38 C464.67 213.38 477.33 220.4 490 220.4 L490 220.96 C477.33 220.96 464.67 224.14 452 224.14 Z" fill="#80cdbf" fill-opacity="0.5" stroke="#6e6e6e" stroke-opacity="0.6" stroke-width="0.45"/>
<path d="M452 213.38 C464.67 213.38 477.33 220.4 490 220.4 L490 271.17 C477.33 271.17 464.67 217.12 452 217.12 Z" fill="#f38789" fill-opacity="0.5" stroke="#6e6e6e" stroke-opacity="0.6" stroke-width="0.45"/>
<path d="M414 264.34 C426.67 264.34 439.33 227.31 452 227.31 L452 279.3 C439.33 279.3 426.67 269.95 414 269.95 Z" fill="#ffe968" fill-opacity="0.5" stroke="#6e6e6e" stroke-opacity="0.6" stroke-width="0.45" stroke-dasharray="1.6 0.9"/>
<path d="M452 227.31 C464.67 227.31 477.33 220.86 490 220.86 L490 223.2 C477.33 223.2 464.67 279.3 452 279.3 Z" fill="#ffe968" fill-opacity="0.5" stroke="#6e6e6e" stroke-opacity="0.6" stroke-width="0.45" stroke-dasharray="1.6 0.9"/>
<path d="M414 269.95 C426.67 269.95 439.33 225.54 452 225.54 L452 230.68 C439.33 230.68 426.67 274.62 414 274.62 Z" fill="#dccf60" fill-opacity="0.5" stroke="#6e6e6e" stroke-opacity="0.6" stroke-width="0.45" stroke-dasharray="1.6 0.9"/>
<path d="M452 225.54 C464.67 225.54 477.33 271.17 490 271.17 L490 279.3 C477.33 279.3 464.67 230.68 452 230.68 Z" fill="#dccf60" fill-opacity="0.5" stroke="#6e6e6e" stroke-opacity="0.6" stroke-width="0.45" stroke-dasharray="1.6 0.9"/>
<path d="M414 274.62 C426.67 274.62 439.33 227.31 452 227.31 L452 227.31 C439.33 227.31 426.67 277.43 414 277.43 Z" fill="#d3c1d9" fill-opacity="0.5" stroke="#6e6e6e" stroke-opacity="0.6" stroke-width="0.45" stroke-dasharray="1.6 0.9"/>
<text x="414" y="268.78" font-size="4.8" fill="#707070" text-anchor="middle" dominant-baseline="central">10.8%</text>
<text x="414" y="277.19" font-size="4.8" fill="#707070" text-anchor="middle" dominant-baseline="central">5.2%</text>
<text x="452" y="219.22" font-size="4.8" fill="#707070" text-anchor="middle" dominant-baseline="central">10.7%</text>
<text x="452" y="226.24" font-size="4.8" fill="#707070" text-anchor="middle" dominant-baseline="central">3.3%</text>
<text x="452" y="253.82" font-size="4.8" fill="#707070" text-anchor="middle" dominant-baseline="central">55.6%</text>
<text x="490" y="221.09" font-size="4.8" fill="#707070" text-anchor="middle" dominant-baseline="central">0.6%</text>
<text x="490" y="249.15" font-size="4.8" fill="#707070" text-anchor="middle" dominant-baseline="central">54%</text>
<text x="490" y="276.26" font-size="4.8" fill="#707070" text-anchor="middle" dominant-baseline="central">8.7%</text>
<line x1="390.8" x2="390.8" y1="180.7" y2="284.95" stroke="#111" stroke-width="1.35"/>
<line x1="390.15" x2="512.7" y1="284.3" y2="284.3" stroke="#111" stroke-width="1.35"/>
<line x1="387.5" x2="390.8" y1="279.3" y2="279.3" stroke="#111" stroke-width="0.9"/>
<text x="385.1" y="278.7" font-size="6.5" fill="#262626" text-anchor="end" dominant-baseline="central">0.00</text>
<line x1="387.5" x2="390.8" y1="255.93" y2="255.93" stroke="#111" stroke-width="0.9"/>
<text x="385.1" y="255.33" font-size="6.5" fill="#262626" text-anchor="end" dominant-baseline="central">0.25</text>
<line x1="387.5" x2="390.8" y1="232.55" y2="232.55" stroke="#111" stroke-width="0.9"/>
<text x="385.1" y="231.95" font-size="6.5" fill="#262626" text-anchor="end" dominant-baseline="central">0.50</text>
<line x1="387.5" x2="390.8" y1="209.18" y2="209.18" stroke="#111" stroke-width="0.9"/>
<text x="385.1" y="208.58" font-size="6.5" fill="#262626" text-anchor="end" dominant-baseline="central">0.75</text>
<line x1="387.5" x2="390.8" y1="185.8" y2="185.8" stroke="#111" stroke-width="0.9"/>
<text x="385.1" y="185.2" font-size="6.5" fill="#262626" text-anchor="end" dominant-baseline="central">1.00</text>
<line x1="414" x2="414" y1="284.3" y2="287.6" stroke="#111" stroke-width="0.9"/>
<text x="414" y="294.2" font-size="6.8" fill="#262626" text-anchor="middle" dominant-baseline="central">OG1</text>
<line x1="452" x2="452" y1="284.3" y2="287.6" stroke="#111" stroke-width="0.9"/>
<text x="452" y="294.2" font-size="6.8" fill="#262626" text-anchor="middle" dominant-baseline="central">OG2</text>
<line x1="490" x2="490" y1="284.3" y2="287.6" stroke="#111" stroke-width="0.9"/>
<text x="490" y="294.2" font-size="6.8" fill="#262626" text-anchor="middle" dominant-baseline="central">OG3</text>
<text transform="translate(363.6 233.25) rotate(-90)" font-size="8.6" fill="#141414" stroke="#141414" stroke-width="0.15" text-anchor="middle" dominant-baseline="central" textLength="70.8" lengthAdjust="spacingAndGlyphs">Fraction of alternate alleles</text>
<rect x="243.4" y="307.25" width="5.1" height="5.1" fill="#b6dfd8" stroke="#555" stroke-width="0.6"/>
<line x1="245.95" x2="245.95" y1="307.6" y2="312" stroke="#fff" stroke-opacity="0.85" stroke-width="0.5"/>
<line x1="243.8" x2="248.1" y1="309.8" y2="309.8" stroke="#fff" stroke-opacity="0.85" stroke-width="0.5"/>
<text x="251.6" y="309.9" font-size="5.3" fill="#333" dominant-baseline="central">10 (NRAS)</text>
<rect x="280.3" y="307.25" width="5.1" height="5.1" fill="#efb7b0" stroke="#555" stroke-width="0.6"/>
<line x1="282.85" x2="282.85" y1="307.6" y2="312" stroke="#fff" stroke-opacity="0.85" stroke-width="0.5"/>
<line x1="280.7" x2="285" y1="309.8" y2="309.8" stroke="#fff" stroke-opacity="0.85" stroke-width="0.5"/>
<text x="287.8" y="309.9" font-size="5.3" fill="#333" dominant-baseline="central">13 (NRAS;SH2B3;XPC)</text>
<text x="219" y="318.8" font-size="5.2" fill="#444" dominant-baseline="central">cluster</text>
<rect x="243.4" y="316.05" width="5.1" height="5.1" fill="#e4dca6" stroke="#555" stroke-width="0.6" stroke-dasharray="1.1 0.8"/>
<line x1="245.95" x2="245.95" y1="316.4" y2="320.8" stroke="#fff" stroke-opacity="0.85" stroke-width="0.5"/>
<line x1="243.8" x2="248.1" y1="318.6" y2="318.6" stroke="#fff" stroke-opacity="0.85" stroke-width="0.5"/>
<text x="251.6" y="318.7" font-size="5.3" fill="#333" dominant-baseline="central">1 (NRAS)</text>
<rect x="280.3" y="316.05" width="5.1" height="5.1" fill="#d6d3e3" stroke="#555" stroke-width="0.6" stroke-dasharray="1.1 0.8"/>
<line x1="282.85" x2="282.85" y1="316.4" y2="320.8" stroke="#fff" stroke-opacity="0.85" stroke-width="0.5"/>
<line x1="280.7" x2="285" y1="318.6" y2="318.6" stroke="#fff" stroke-opacity="0.85" stroke-width="0.5"/>
<text x="287.8" y="318.7" font-size="5.3" fill="#333" dominant-baseline="central">3 (ERG)</text>
<rect x="428.9" y="307.25" width="5.1" height="5.1" fill="#b6dfd8" stroke="#555" stroke-width="0.6"/>
<line x1="431.45" x2="431.45" y1="307.6" y2="312" stroke="#fff" stroke-opacity="0.85" stroke-width="0.5"/>
<line x1="429.3" x2="433.6" y1="309.8" y2="309.8" stroke="#fff" stroke-opacity="0.85" stroke-width="0.5"/>
<text x="437" y="309.9" font-size="5.3" fill="#333" dominant-baseline="central">10 (NRAS)</text>
<rect x="465.8" y="307.25" width="5.1" height="5.1" fill="#efb7b0" stroke="#555" stroke-width="0.6"/>
<line x1="468.35" x2="468.35" y1="307.6" y2="312" stroke="#fff" stroke-opacity="0.85" stroke-width="0.5"/>
<line x1="466.2" x2="470.5" y1="309.8" y2="309.8" stroke="#fff" stroke-opacity="0.85" stroke-width="0.5"/>
<text x="473.6" y="309.9" font-size="5.3" fill="#333" dominant-baseline="central">13 (NRAS)</text>
<text x="404.2" y="317.8" font-size="5.2" fill="#444" dominant-baseline="central">cluster</text>
<rect x="428.9" y="315.85" width="5.1" height="5.1" fill="#e4dca6" stroke="#555" stroke-width="0.6" stroke-dasharray="1.1 0.8"/>
<line x1="431.45" x2="431.45" y1="316.2" y2="320.6" stroke="#fff" stroke-opacity="0.85" stroke-width="0.5"/>
<line x1="429.3" x2="433.6" y1="318.4" y2="318.4" stroke="#fff" stroke-opacity="0.85" stroke-width="0.5"/>
<text x="437" y="318.5" font-size="5.3" fill="#333" dominant-baseline="central">1 (NRAS)</text>
<rect x="465.8" y="315.85" width="5.1" height="5.1" fill="#d6d3e3" stroke="#555" stroke-width="0.6" stroke-dasharray="1.1 0.8"/>
<line x1="468.35" x2="468.35" y1="316.2" y2="320.6" stroke="#fff" stroke-opacity="0.85" stroke-width="0.5"/>
<line x1="466.2" x2="470.5" y1="318.4" y2="318.4" stroke="#fff" stroke-opacity="0.85" stroke-width="0.5"/>
<text x="473.6" y="318.5" font-size="5.3" fill="#333" dominant-baseline="central">6 (MYC)</text>
<rect x="61.3" y="330.8" width="120.3" height="118.3" fill="#ebebeb"/>
<line x1="61.3" x2="181.6" y1="431" y2="431" stroke="#f1f1f1" stroke-width="0.4"/>
<line x1="61.3" x2="181.6" y1="403.8" y2="403.8" stroke="#f1f1f1" stroke-width="0.4"/>
<line x1="61.3" x2="181.6" y1="376.6" y2="376.6" stroke="#f1f1f1" stroke-width="0.4"/>
<line x1="61.3" x2="181.6" y1="349.4" y2="349.4" stroke="#f1f1f1" stroke-width="0.4"/>
<line x1="61.3" x2="181.6" y1="444.6" y2="444.6" stroke="#f6f6f6" stroke-width="0.75"/>
<line x1="61.3" x2="181.6" y1="417.4" y2="417.4" stroke="#f6f6f6" stroke-width="0.75"/>
<line x1="61.3" x2="181.6" y1="390.2" y2="390.2" stroke="#f6f6f6" stroke-width="0.75"/>
<line x1="61.3" x2="181.6" y1="363" y2="363" stroke="#f6f6f6" stroke-width="0.75"/>
<line x1="61.3" x2="181.6" y1="335.8" y2="335.8" stroke="#f6f6f6" stroke-width="0.75"/>
<line x1="83.1" x2="83.1" y1="330.8" y2="449.1" stroke="#f6f6f6" stroke-width="0.75"/>
<line x1="121.3" x2="121.3" y1="330.8" y2="449.1" stroke="#f6f6f6" stroke-width="0.75"/>
<line x1="159.5" x2="159.5" y1="330.8" y2="449.1" stroke="#f6f6f6" stroke-width="0.75"/>
<path d="M83.1 443.51 C95.83 443.51 108.57 444.06 121.3 444.06 L121.3 444.6 C108.57 444.6 95.83 444.6 83.1 444.6 Z" fill="#f1e9a2" fill-opacity="1.0" stroke="#6e6e6e" stroke-opacity="0.6" stroke-width="0.45"/>
<path d="M121.3 444.06 C134.03 444.06 146.77 439.05 159.5 439.05 L159.5 444.6 C146.77 444.6 134.03 444.6 121.3 444.6 Z" fill="#f1e9a2" fill-opacity="1.0" stroke="#6e6e6e" stroke-opacity="0.6" stroke-width="0.45"/>
<path d="M121.3 444.06 C134.03 444.06 146.77 382.26 159.5 382.26 L159.5 439.05 C146.77 439.05 134.03 444.06 121.3 444.06 Z" fill="#d9cadb" fill-opacity="1.0" stroke="#6e6e6e" stroke-opacity="0.6" stroke-width="0.45" stroke-dasharray="1.6 0.9"/>
<path d="M83.1 443.51 C95.83 443.51 108.57 404.78 121.3 404.78 L121.3 444.06 C108.57 444.06 95.83 443.51 83.1 443.51 Z" fill="#e4e1e7" fill-opacity="1.0" stroke="#6e6e6e" stroke-opacity="0.6" stroke-width="0.45" stroke-dasharray="1.6 0.9"/>
<path d="M121.3 404.78 C134.03 404.78 146.77 368.77 159.5 368.77 L159.5 382.26 C146.77 382.26 134.03 444.06 121.3 444.06 Z" fill="#e4e1e7" fill-opacity="1.0" stroke="#6e6e6e" stroke-opacity="0.6" stroke-width="0.45" stroke-dasharray="1.6 0.9"/>
<path d="M83.1 442.42 C95.83 442.42 108.57 399.56 121.3 399.56 L121.3 404.78 C108.57 404.78 95.83 443.51 83.1 443.51 Z" fill="#f2d0a6" fill-opacity="1.0" stroke="#6e6e6e" stroke-opacity="0.6" stroke-width="0.45"/>
<path d="M121.3 399.56 C134.03 399.56 146.77 368.44 159.5 368.44 L159.5 368.77 C146.77 368.77 134.03 404.78 121.3 404.78 Z" fill="#f2d0a6" fill-opacity="1.0" stroke="#6e6e6e" stroke-opacity="0.6" stroke-width="0.45"/>
<path d="M83.1 442.42 C95.83 442.42 108.57 398.14 121.3 398.14 L121.3 399.56 C108.57 399.56 95.83 442.42 83.1 442.42 Z" fill="#e2b8a8" fill-opacity="1.0" stroke="#6e6e6e" stroke-opacity="0.6" stroke-width="0.45"/>
<path d="M121.3 398.14 C134.03 398.14 146.77 368.44 159.5 368.44 L159.5 368.44 C146.77 368.44 134.03 399.56 121.3 399.56 Z" fill="#e2b8a8" fill-opacity="1.0" stroke="#6e6e6e" stroke-opacity="0.6" stroke-width="0.45"/>
<path d="M83.1 442.42 C95.83 442.42 108.57 397.92 121.3 397.92 L121.3 398.14 C108.57 398.14 95.83 442.42 83.1 442.42 Z" fill="#e9c7b5" fill-opacity="1.0" stroke="#6e6e6e" stroke-opacity="0.6" stroke-width="0.45"/>
<path d="M121.3 397.92 C134.03 397.92 146.77 368.44 159.5 368.44 L159.5 368.44 C146.77 368.44 134.03 398.14 121.3 398.14 Z" fill="#e9c7b5" fill-opacity="1.0" stroke="#6e6e6e" stroke-opacity="0.6" stroke-width="0.45"/>
<path d="M83.1 404.13 C95.83 404.13 108.57 335.8 121.3 335.8 L121.3 397.92 C108.57 397.92 95.83 442.42 83.1 442.42 Z" fill="#e3e2d7" fill-opacity="1.0" stroke="#6e6e6e" stroke-opacity="0.6" stroke-width="0.45"/>
<path d="M121.3 335.8 C134.03 335.8 146.77 335.8 159.5 335.8 L159.5 368.44 C146.77 368.44 134.03 397.92 121.3 397.92 Z" fill="#e3e2d7" fill-opacity="1.0" stroke="#6e6e6e" stroke-opacity="0.6" stroke-width="0.45"/>
<path d="M83.1 335.8 C95.83 335.8 108.57 335.8 121.3 335.8 L121.3 335.8 C108.57 335.8 95.83 404.13 83.1 404.13 Z" fill="#b6dfd8" fill-opacity="1.0" stroke="#6e6e6e" stroke-opacity="0.6" stroke-width="0.45"/>
<text x="83.1" y="445.3" font-size="4.8" fill="#707070" text-anchor="middle" dominant-baseline="central">#9 (1%)</text>
<text x="159.5" y="442.53" font-size="4.8" fill="#707070" text-anchor="middle" dominant-baseline="central">#9 (5.1%)</text>
<text x="159.5" y="411.35" font-size="4.8" fill="#707070" text-anchor="middle" dominant-baseline="central">#8 (52.2%)</text>
<text x="121.3" y="425.12" font-size="4.8" fill="#707070" text-anchor="middle" dominant-baseline="central">#6 (36.1%)</text>
<text x="159.5" y="376.21" font-size="4.8" fill="#707070" text-anchor="middle" dominant-baseline="central">#6 (12.4%)</text>
<text x="121.3" y="406.68" font-size="4.8" fill="#707070" text-anchor="middle" dominant-baseline="central">#5 (5.6%)</text>
<text x="121.3" y="402.32" font-size="4.8" fill="#707070" text-anchor="middle" dominant-baseline="central">#4 (1.3%)</text>
<text x="121.3" y="398.52" font-size="4.8" fill="#707070" text-anchor="middle" dominant-baseline="central">#3 (0.2%)</text>
<text x="83.1" y="423.98" font-size="4.8" fill="#707070" text-anchor="middle" dominant-baseline="central">#2 (34.6%)</text>
<text x="121.3" y="367.56" font-size="4.8" fill="#707070" text-anchor="middle" dominant-baseline="central">#2 (56.7%)</text>
<text x="159.5" y="352.82" font-size="4.8" fill="#707070" text-anchor="middle" dominant-baseline="central">#2 (30.4%)</text>
<text x="83.1" y="370.66" font-size="4.8" fill="#707070" text-anchor="middle" dominant-baseline="central">#1 (62.8%)</text>
<line x1="59.4" x2="59.4" y1="330.3" y2="451.45" stroke="#111" stroke-width="1.35"/>
<line x1="58.75" x2="181.6" y1="450.8" y2="450.8" stroke="#111" stroke-width="1.35"/>
<line x1="56.1" x2="59.4" y1="444.6" y2="444.6" stroke="#111" stroke-width="0.9"/>
<text x="53.7" y="444" font-size="6.5" fill="#262626" text-anchor="end" dominant-baseline="central">0.00</text>
<line x1="56.1" x2="59.4" y1="417.4" y2="417.4" stroke="#111" stroke-width="0.9"/>
<text x="53.7" y="416.8" font-size="6.5" fill="#262626" text-anchor="end" dominant-baseline="central">0.25</text>
<line x1="56.1" x2="59.4" y1="390.2" y2="390.2" stroke="#111" stroke-width="0.9"/>
<text x="53.7" y="389.6" font-size="6.5" fill="#262626" text-anchor="end" dominant-baseline="central">0.50</text>
<line x1="56.1" x2="59.4" y1="363" y2="363" stroke="#111" stroke-width="0.9"/>
<text x="53.7" y="362.4" font-size="6.5" fill="#262626" text-anchor="end" dominant-baseline="central">0.75</text>
<line x1="56.1" x2="59.4" y1="335.8" y2="335.8" stroke="#111" stroke-width="0.9"/>
<text x="53.7" y="335.2" font-size="6.5" fill="#262626" text-anchor="end" dominant-baseline="central">1.00</text>
<line x1="83.1" x2="83.1" y1="450.8" y2="454.1" stroke="#111" stroke-width="0.9"/>
<text x="83.1" y="460.3" font-size="6.8" fill="#262626" text-anchor="middle" dominant-baseline="central">OG1</text>
<line x1="121.3" x2="121.3" y1="450.8" y2="454.1" stroke="#111" stroke-width="0.9"/>
<text x="121.3" y="460.3" font-size="6.8" fill="#262626" text-anchor="middle" dominant-baseline="central">OG2</text>
<line x1="159.5" x2="159.5" y1="450.8" y2="454.1" stroke="#111" stroke-width="0.9"/>
<text x="159.5" y="460.3" font-size="6.8" fill="#262626" text-anchor="middle" dominant-baseline="central">OG3</text>
<text transform="translate(33.6 391.3) rotate(-90)" font-size="8.6" fill="#141414" stroke="#141414" stroke-width="0.15" text-anchor="middle" dominant-baseline="central" textLength="70.8" lengthAdjust="spacingAndGlyphs">Fraction of alternate alleles</text>
<rect x="224.9" y="342" width="120.5" height="107.2" fill="#ebebeb"/>
<line x1="224.9" x2="345.4" y1="433.3" y2="433.3" stroke="#f1f1f1" stroke-width="0.4"/>
<line x1="224.9" x2="345.4" y1="408.7" y2="408.7" stroke="#f1f1f1" stroke-width="0.4"/>
<line x1="224.9" x2="345.4" y1="384.1" y2="384.1" stroke="#f1f1f1" stroke-width="0.4"/>
<line x1="224.9" x2="345.4" y1="359.5" y2="359.5" stroke="#f1f1f1" stroke-width="0.4"/>
<line x1="224.9" x2="345.4" y1="445.6" y2="445.6" stroke="#f6f6f6" stroke-width="0.75"/>
<line x1="224.9" x2="345.4" y1="421" y2="421" stroke="#f6f6f6" stroke-width="0.75"/>
<line x1="224.9" x2="345.4" y1="396.4" y2="396.4" stroke="#f6f6f6" stroke-width="0.75"/>
<line x1="224.9" x2="345.4" y1="371.8" y2="371.8" stroke="#f6f6f6" stroke-width="0.75"/>
<line x1="224.9" x2="345.4" y1="347.2" y2="347.2" stroke="#f6f6f6" stroke-width="0.75"/>
<line x1="246.1" x2="246.1" y1="342" y2="449.2" stroke="#f6f6f6" stroke-width="0.75"/>
<line x1="284.1" x2="284.1" y1="342" y2="449.2" stroke="#f6f6f6" stroke-width="0.75"/>
<line x1="322.3" x2="322.3" y1="342" y2="449.2" stroke="#f6f6f6" stroke-width="0.75"/>
<path d="M246.1 383.8 C258.77 383.8 271.43 389.81 284.1 389.81 L284.1 389.81 C271.43 389.81 258.77 445.6 246.1 445.6 Z" fill="#80cdbf" fill-opacity="0.5" stroke="#6e6e6e" stroke-opacity="0.6" stroke-width="0.45"/>
<path d="M246.1 349.66 C258.77 349.66 271.43 389.81 284.1 389.81 L284.1 445.6 C271.43 445.6 258.77 383.8 246.1 383.8 Z" fill="#ffe968" fill-opacity="0.5" stroke="#6e6e6e" stroke-opacity="0.6" stroke-width="0.45" stroke-dasharray="1.6 0.9"/>
<path d="M284.1 389.81 C296.83 389.81 309.57 415.69 322.3 415.69 L322.3 445.6 C309.57 445.6 296.83 445.6 284.1 445.6 Z" fill="#ffe968" fill-opacity="0.5" stroke="#6e6e6e" stroke-opacity="0.6" stroke-width="0.45" stroke-dasharray="1.6 0.9"/>
<text x="246.1" y="367.58" font-size="4.8" fill="#707070" text-anchor="middle" dominant-baseline="central">34.6%</text>
<text x="246.1" y="415.8" font-size="4.8" fill="#707070" text-anchor="middle" dominant-baseline="central">62.8%</text>
<text x="284.1" y="418.75" font-size="4.8" fill="#707070" text-anchor="middle" dominant-baseline="central">56.7%</text>
<text x="322.3" y="431.54" font-size="4.8" fill="#707070" text-anchor="middle" dominant-baseline="central">30.4%</text>
<line x1="223" x2="223" y1="341.5" y2="451.55" stroke="#111" stroke-width="1.35"/>
<line x1="222.35" x2="345.4" y1="450.9" y2="450.9" stroke="#111" stroke-width="1.35"/>
<line x1="219.7" x2="223" y1="445.6" y2="445.6" stroke="#111" stroke-width="0.9"/>
<text x="217.3" y="445" font-size="6.5" fill="#262626" text-anchor="end" dominant-baseline="central">0.00</text>
<line x1="219.7" x2="223" y1="421" y2="421" stroke="#111" stroke-width="0.9"/>
<text x="217.3" y="420.4" font-size="6.5" fill="#262626" text-anchor="end" dominant-baseline="central">0.25</text>
<line x1="219.7" x2="223" y1="396.4" y2="396.4" stroke="#111" stroke-width="0.9"/>
<text x="217.3" y="395.8" font-size="6.5" fill="#262626" text-anchor="end" dominant-baseline="central">0.50</text>
<line x1="219.7" x2="223" y1="371.8" y2="371.8" stroke="#111" stroke-width="0.9"/>
<text x="217.3" y="371.2" font-size="6.5" fill="#262626" text-anchor="end" dominant-baseline="central">0.75</text>
<line x1="219.7" x2="223" y1="347.2" y2="347.2" stroke="#111" stroke-width="0.9"/>
<text x="217.3" y="346.6" font-size="6.5" fill="#262626" text-anchor="end" dominant-baseline="central">1.00</text>
<line x1="246.1" x2="246.1" y1="450.9" y2="454.2" stroke="#111" stroke-width="0.9"/>
<text x="246.1" y="460.5" font-size="6.8" fill="#262626" text-anchor="middle" dominant-baseline="central">OG1</text>
<line x1="284.1" x2="284.1" y1="450.9" y2="454.2" stroke="#111" stroke-width="0.9"/>
<text x="284.1" y="460.5" font-size="6.8" fill="#262626" text-anchor="middle" dominant-baseline="central">OG2</text>
<line x1="322.3" x2="322.3" y1="450.9" y2="454.2" stroke="#111" stroke-width="0.9"/>
<text x="322.3" y="460.5" font-size="6.8" fill="#262626" text-anchor="middle" dominant-baseline="central">OG3</text>
<text transform="translate(196.2 396.95) rotate(-90)" font-size="8.6" fill="#141414" stroke="#141414" stroke-width="0.15" text-anchor="middle" dominant-baseline="central" textLength="70.8" lengthAdjust="spacingAndGlyphs">Fraction of alternate alleles</text>
<rect x="392.7" y="348.2" width="120" height="101.1" fill="#ebebeb"/>
<line x1="392.7" x2="512.7" y1="434.27" y2="434.27" stroke="#f1f1f1" stroke-width="0.4"/>
<line x1="392.7" x2="512.7" y1="411.02" y2="411.02" stroke="#f1f1f1" stroke-width="0.4"/>
<line x1="392.7" x2="512.7" y1="387.77" y2="387.77" stroke="#f1f1f1" stroke-width="0.4"/>
<line x1="392.7" x2="512.7" y1="364.52" y2="364.52" stroke="#f1f1f1" stroke-width="0.4"/>
<line x1="392.7" x2="512.7" y1="445.9" y2="445.9" stroke="#f6f6f6" stroke-width="0.75"/>
<line x1="392.7" x2="512.7" y1="422.65" y2="422.65" stroke="#f6f6f6" stroke-width="0.75"/>
<line x1="392.7" x2="512.7" y1="399.4" y2="399.4" stroke="#f6f6f6" stroke-width="0.75"/>
<line x1="392.7" x2="512.7" y1="376.15" y2="376.15" stroke="#f6f6f6" stroke-width="0.75"/>
<line x1="392.7" x2="512.7" y1="352.9" y2="352.9" stroke="#f6f6f6" stroke-width="0.75"/>
<line x1="414" x2="414" y1="348.2" y2="449.3" stroke="#f6f6f6" stroke-width="0.75"/>
<line x1="452" x2="452" y1="348.2" y2="449.3" stroke="#f6f6f6" stroke-width="0.75"/>
<line x1="490" x2="490" y1="348.2" y2="449.3" stroke="#f6f6f6" stroke-width="0.75"/>
<path d="M414 387.5 C426.67 387.5 439.33 393.17 452 393.17 L452 393.17 C439.33 393.17 426.67 445.9 414 445.9 Z" fill="#80cdbf" fill-opacity="0.5" stroke="#6e6e6e" stroke-opacity="0.6" stroke-width="0.45"/>
<path d="M414 355.22 C426.67 355.22 439.33 393.17 452 393.17 L452 445.9 C439.33 445.9 426.67 387.5 414 387.5 Z" fill="#dccf60" fill-opacity="0.5" stroke="#6e6e6e" stroke-opacity="0.6" stroke-width="0.45" stroke-dasharray="1.6 0.9"/>
<path d="M452 393.17 C464.67 393.17 477.33 369.08 490 369.08 L490 397.35 C477.33 397.35 464.67 445.9 452 445.9 Z" fill="#dccf60" fill-opacity="0.5" stroke="#6e6e6e" stroke-opacity="0.6" stroke-width="0.45" stroke-dasharray="1.6 0.9"/>
<path d="M452 393.17 C464.67 393.17 477.33 397.35 490 397.35 L490 445.9 C477.33 445.9 464.67 393.17 452 393.17 Z" fill="#ffe968" fill-opacity="0.5" stroke="#6e6e6e" stroke-opacity="0.6" stroke-width="0.45" stroke-dasharray="1.6 0.9"/>
<text x="414" y="372.2" font-size="4.8" fill="#707070" text-anchor="middle" dominant-baseline="central">34.6%</text>
<text x="414" y="417.77" font-size="4.8" fill="#707070" text-anchor="middle" dominant-baseline="central">62.8%</text>
<text x="452" y="420.56" font-size="4.8" fill="#707070" text-anchor="middle" dominant-baseline="central">56.7%</text>
<text x="490" y="384.29" font-size="4.8" fill="#707070" text-anchor="middle" dominant-baseline="central">30.4%</text>
<text x="490" y="422.42" font-size="4.8" fill="#707070" text-anchor="middle" dominant-baseline="central">52.2%</text>
<line x1="390.8" x2="390.8" y1="347.7" y2="451.65" stroke="#111" stroke-width="1.35"/>
<line x1="390.15" x2="512.7" y1="451" y2="451" stroke="#111" stroke-width="1.35"/>
<line x1="387.5" x2="390.8" y1="445.9" y2="445.9" stroke="#111" stroke-width="0.9"/>
<text x="385.1" y="445.3" font-size="6.5" fill="#262626" text-anchor="end" dominant-baseline="central">0.00</text>
<line x1="387.5" x2="390.8" y1="422.65" y2="422.65" stroke="#111" stroke-width="0.9"/>
<text x="385.1" y="422.05" font-size="6.5" fill="#262626" text-anchor="end" dominant-baseline="central">0.25</text>
<line x1="387.5" x2="390.8" y1="399.4" y2="399.4" stroke="#111" stroke-width="0.9"/>
<text x="385.1" y="398.8" font-size="6.5" fill="#262626" text-anchor="end" dominant-baseline="central">0.50</text>
<line x1="387.5" x2="390.8" y1="376.15" y2="376.15" stroke="#111" stroke-width="0.9"/>
<text x="385.1" y="375.55" font-size="6.5" fill="#262626" text-anchor="end" dominant-baseline="central">0.75</text>
<line x1="387.5" x2="390.8" y1="352.9" y2="352.9" stroke="#111" stroke-width="0.9"/>
<text x="385.1" y="352.3" font-size="6.5" fill="#262626" text-anchor="end" dominant-baseline="central">1.00</text>
<line x1="414" x2="414" y1="451" y2="454.3" stroke="#111" stroke-width="0.9"/>
<text x="414" y="460.8" font-size="6.8" fill="#262626" text-anchor="middle" dominant-baseline="central">OG1</text>
<line x1="452" x2="452" y1="451" y2="454.3" stroke="#111" stroke-width="0.9"/>
<text x="452" y="460.8" font-size="6.8" fill="#262626" text-anchor="middle" dominant-baseline="central">OG2</text>
<line x1="490" x2="490" y1="451" y2="454.3" stroke="#111" stroke-width="0.9"/>
<text x="490" y="460.8" font-size="6.8" fill="#262626" text-anchor="middle" dominant-baseline="central">OG3</text>
<text transform="translate(363.6 400.1) rotate(-90)" font-size="8.6" fill="#141414" stroke="#141414" stroke-width="0.15" text-anchor="middle" dominant-baseline="central" textLength="70.8" lengthAdjust="spacingAndGlyphs">Fraction of alternate alleles</text>
<text x="241.8" y="475.7" font-size="5.2" fill="#444" dominant-baseline="central">cluster</text>
<rect x="266.3" y="473.85" width="5.1" height="5.1" fill="#b6dfd8" stroke="#555" stroke-width="0.6"/>
<line x1="268.85" x2="268.85" y1="474.2" y2="478.6" stroke="#fff" stroke-opacity="0.85" stroke-width="0.5"/>
<line x1="266.7" x2="271" y1="476.4" y2="476.4" stroke="#fff" stroke-opacity="0.85" stroke-width="0.5"/>
<text x="274.2" y="476.5" font-size="5.3" fill="#333" dominant-baseline="central">1 (FLT3)</text>
<rect x="300.2" y="473.85" width="5.1" height="5.1" fill="#f5eaa9" stroke="#555" stroke-width="0.6" stroke-dasharray="1.1 0.8"/>
<line x1="302.75" x2="302.75" y1="474.2" y2="478.6" stroke="#fff" stroke-opacity="0.85" stroke-width="0.5"/>
<line x1="300.6" x2="304.9" y1="476.4" y2="476.4" stroke="#fff" stroke-opacity="0.85" stroke-width="0.5"/>
<text x="308" y="476.5" font-size="5.3" fill="#333" dominant-baseline="central">2 (MET)</text>
<rect x="434" y="473.45" width="5.1" height="5.1" fill="#b6dfd8" stroke="#555" stroke-width="0.6"/>
<line x1="436.55" x2="436.55" y1="473.8" y2="478.2" stroke="#fff" stroke-opacity="0.85" stroke-width="0.5"/>
<line x1="434.4" x2="438.7" y1="476" y2="476" stroke="#fff" stroke-opacity="0.85" stroke-width="0.5"/>
<text x="442.3" y="476.1" font-size="5.3" fill="#333" dominant-baseline="central">1 (FLT3)</text>
<rect x="467.9" y="473.45" width="5.1" height="5.1" fill="#e2dca4" stroke="#555" stroke-width="0.6" stroke-dasharray="1.1 0.8"/>
<line x1="470.45" x2="470.45" y1="473.8" y2="478.2" stroke="#fff" stroke-opacity="0.85" stroke-width="0.5"/>
<line x1="468.3" x2="472.6" y1="476" y2="476" stroke="#fff" stroke-opacity="0.85" stroke-width="0.5"/>
<text x="475.5" y="476.1" font-size="5.3" fill="#333" dominant-baseline="central">2 (MET)</text>
<text x="409.5" y="480.3" font-size="5.2" fill="#444" dominant-baseline="central">cluster</text>
<rect x="434" y="482.35" width="5.1" height="5.1" fill="#f5ec9f" stroke="#555" stroke-width="0.6" stroke-dasharray="1.1 0.8"/>
<line x1="436.55" x2="436.55" y1="482.7" y2="487.1" stroke="#fff" stroke-opacity="0.85" stroke-width="0.5"/>
<line x1="434.4" x2="438.7" y1="484.9" y2="484.9" stroke="#fff" stroke-opacity="0.85" stroke-width="0.5"/>
<text x="442.3" y="485" font-size="5.3" fill="#333" dominant-baseline="central">8 (LYN)</text>
<rect x="61.3" y="498.1" width="120.3" height="112.1" fill="#ebebeb"/>
<line x1="61.3" x2="181.6" y1="593.02" y2="593.02" stroke="#f1f1f1" stroke-width="0.4"/>
<line x1="61.3" x2="181.6" y1="567.27" y2="567.27" stroke="#f1f1f1" stroke-width="0.4"/>
<line x1="61.3" x2="181.6" y1="541.52" y2="541.52" stroke="#f1f1f1" stroke-width="0.4"/>
<line x1="61.3" x2="181.6" y1="515.77" y2="515.77" stroke="#f1f1f1" stroke-width="0.4"/>
<line x1="61.3" x2="181.6" y1="605.9" y2="605.9" stroke="#f6f6f6" stroke-width="0.75"/>
<line x1="61.3" x2="181.6" y1="580.15" y2="580.15" stroke="#f6f6f6" stroke-width="0.75"/>
<line x1="61.3" x2="181.6" y1="554.4" y2="554.4" stroke="#f6f6f6" stroke-width="0.75"/>
<line x1="61.3" x2="181.6" y1="528.65" y2="528.65" stroke="#f6f6f6" stroke-width="0.75"/>
<line x1="61.3" x2="181.6" y1="502.9" y2="502.9" stroke="#f6f6f6" stroke-width="0.75"/>
<line x1="83.1" x2="83.1" y1="498.1" y2="610.2" stroke="#f6f6f6" stroke-width="0.75"/>
<line x1="121.3" x2="121.3" y1="498.1" y2="610.2" stroke="#f6f6f6" stroke-width="0.75"/>
<line x1="159.5" x2="159.5" y1="498.1" y2="610.2" stroke="#f6f6f6" stroke-width="0.75"/>
<path d="M83.1 604.15 C95.83 604.15 108.57 605.8 121.3 605.8 L121.3 605.9 C108.57 605.9 95.83 605.9 83.1 605.9 Z" fill="#dfd2e6" fill-opacity="1.0" stroke="#6e6e6e" stroke-opacity="0.6" stroke-width="0.45" stroke-dasharray="1.6 0.9"/>
<path d="M121.3 605.8 C134.03 605.8 146.77 603.84 159.5 603.84 L159.5 605.9 C146.77 605.9 134.03 605.9 121.3 605.9 Z" fill="#dfd2e6" fill-opacity="1.0" stroke="#6e6e6e" stroke-opacity="0.6" stroke-width="0.45" stroke-dasharray="1.6 0.9"/>
<path d="M83.1 589.21 C95.83 589.21 108.57 597.87 121.3 597.87 L121.3 605.8 C108.57 605.8 95.83 604.15 83.1 604.15 Z" fill="#f2d0a6" fill-opacity="1.0" stroke="#6e6e6e" stroke-opacity="0.6" stroke-width="0.45"/>
<path d="M121.3 597.87 C134.03 597.87 146.77 603.84 159.5 603.84 L159.5 603.84 C146.77 603.84 134.03 605.8 121.3 605.8 Z" fill="#f2d0a6" fill-opacity="1.0" stroke="#6e6e6e" stroke-opacity="0.6" stroke-width="0.45"/>
<path d="M83.1 589.21 C95.83 589.21 108.57 522.68 121.3 522.68 L121.3 597.87 C108.57 597.87 95.83 589.21 83.1 589.21 Z" fill="#d7d3e2" fill-opacity="1.0" stroke="#6e6e6e" stroke-opacity="0.6" stroke-width="0.45" stroke-dasharray="1.6 0.9"/>
<path d="M121.3 522.68 C134.03 522.68 146.77 603.84 159.5 603.84 L159.5 603.84 C146.77 603.84 134.03 597.87 121.3 597.87 Z" fill="#d7d3e2" fill-opacity="1.0" stroke="#6e6e6e" stroke-opacity="0.6" stroke-width="0.45" stroke-dasharray="1.6 0.9"/>
<path d="M83.1 589.21 C95.83 589.21 108.57 504.65 121.3 504.65 L121.3 522.68 C108.57 522.68 95.83 589.21 83.1 589.21 Z" fill="#ecc8d0" fill-opacity="1.0" stroke="#6e6e6e" stroke-opacity="0.6" stroke-width="0.45"/>
<path d="M121.3 504.65 C134.03 504.65 146.77 583.96 159.5 583.96 L159.5 603.84 C146.77 603.84 134.03 522.68 121.3 522.68 Z" fill="#ecc8d0" fill-opacity="1.0" stroke="#6e6e6e" stroke-opacity="0.6" stroke-width="0.45"/>
<path d="M83.1 578.91 C95.83 578.91 108.57 504.14 121.3 504.14 L121.3 504.65 C108.57 504.65 95.83 589.21 83.1 589.21 Z" fill="#f2efc6" fill-opacity="1.0" stroke="#6e6e6e" stroke-opacity="0.6" stroke-width="0.45"/>
<path d="M121.3 504.14 C134.03 504.14 146.77 583.96 159.5 583.96 L159.5 583.96 C146.77 583.96 134.03 504.65 121.3 504.65 Z" fill="#f2efc6" fill-opacity="1.0" stroke="#6e6e6e" stroke-opacity="0.6" stroke-width="0.45"/>
<path d="M83.1 506.81 C95.83 506.81 108.57 503.41 121.3 503.41 L121.3 504.14 C108.57 504.14 95.83 578.91 83.1 578.91 Z" fill="#b6dfd8" fill-opacity="1.0" stroke="#6e6e6e" stroke-opacity="0.6" stroke-width="0.45"/>
<path d="M121.3 503.41 C134.03 503.41 146.77 583.34 159.5 583.34 L159.5 583.96 C146.77 583.96 134.03 504.14 121.3 504.14 Z" fill="#b6dfd8" fill-opacity="1.0" stroke="#6e6e6e" stroke-opacity="0.6" stroke-width="0.45"/>
<path d="M83.1 503.11 C95.83 503.11 108.57 503.41 121.3 503.41 L121.3 503.41 C108.57 503.41 95.83 506.81 83.1 506.81 Z" fill="#f2e7a0" fill-opacity="1.0" stroke="#6e6e6e" stroke-opacity="0.6" stroke-width="0.45"/>
<path d="M121.3 503.41 C134.03 503.41 146.77 579.33 159.5 579.33 L159.5 583.34 C146.77 583.34 134.03 503.41 121.3 503.41 Z" fill="#f2e7a0" fill-opacity="1.0" stroke="#6e6e6e" stroke-opacity="0.6" stroke-width="0.45"/>
<path d="M121.3 503.41 C134.03 503.41 146.77 503.62 159.5 503.62 L159.5 579.33 C146.77 579.33 134.03 503.41 121.3 503.41 Z" fill="#dde2db" fill-opacity="1.0" stroke="#6e6e6e" stroke-opacity="0.6" stroke-width="0.45" stroke-dasharray="1.6 0.9"/>
<text x="83.1" y="605.72" font-size="4.8" fill="#707070" text-anchor="middle" dominant-baseline="central">#9 (1.7%)</text>
<text x="121.3" y="606.6" font-size="4.8" fill="#707070" text-anchor="middle" dominant-baseline="central">#9 (0.1%)</text>
<text x="159.5" y="605.57" font-size="4.8" fill="#707070" text-anchor="middle" dominant-baseline="central">#9 (2%)</text>
<text x="83.1" y="595.27" font-size="4.8" fill="#707070" text-anchor="middle" dominant-baseline="central">#6 (12.6%)</text>
<text x="121.3" y="600.42" font-size="4.8" fill="#707070" text-anchor="middle" dominant-baseline="central">#6 (7.7%)</text>
<text x="121.3" y="560.97" font-size="4.8" fill="#707070" text-anchor="middle" dominant-baseline="central">#5 (73%)</text>
<text x="121.3" y="514.36" font-size="4.8" fill="#707070" text-anchor="middle" dominant-baseline="central">#4 (17.5%)</text>
<text x="159.5" y="594.6" font-size="4.8" fill="#707070" text-anchor="middle" dominant-baseline="central">#4 (19.3%)</text>
<text x="83.1" y="584.76" font-size="4.8" fill="#707070" text-anchor="middle" dominant-baseline="central">#3 (10%)</text>
<text x="83.1" y="543.56" font-size="4.8" fill="#707070" text-anchor="middle" dominant-baseline="central">#1 (68.8%)</text>
<text x="121.3" y="503.81" font-size="4.8" fill="#707070" text-anchor="middle" dominant-baseline="central">#1 (0.7%)</text>
<text x="159.5" y="503.81" font-size="4.8" fill="#707070" text-anchor="middle" dominant-baseline="central">#1 (0.6%)</text>
<text x="83.1" y="505.87" font-size="4.8" fill="#707070" text-anchor="middle" dominant-baseline="central">#11 (2.7%)</text>
<text x="159.5" y="582.03" font-size="4.8" fill="#707070" text-anchor="middle" dominant-baseline="central">#11 (3.9%)</text>
<text x="159.5" y="542.17" font-size="4.8" fill="#707070" text-anchor="middle" dominant-baseline="central">#10 (74%)</text>
<line x1="59.4" x2="59.4" y1="497.6" y2="612.55" stroke="#111" stroke-width="1.35"/>
<line x1="58.75" x2="181.6" y1="611.9" y2="611.9" stroke="#111" stroke-width="1.35"/>
<line x1="56.1" x2="59.4" y1="605.9" y2="605.9" stroke="#111" stroke-width="0.9"/>
<text x="53.7" y="605.3" font-size="6.5" fill="#262626" text-anchor="end" dominant-baseline="central">0.00</text>
<line x1="56.1" x2="59.4" y1="580.15" y2="580.15" stroke="#111" stroke-width="0.9"/>
<text x="53.7" y="579.55" font-size="6.5" fill="#262626" text-anchor="end" dominant-baseline="central">0.25</text>
<line x1="56.1" x2="59.4" y1="554.4" y2="554.4" stroke="#111" stroke-width="0.9"/>
<text x="53.7" y="553.8" font-size="6.5" fill="#262626" text-anchor="end" dominant-baseline="central">0.50</text>
<line x1="56.1" x2="59.4" y1="528.65" y2="528.65" stroke="#111" stroke-width="0.9"/>
<text x="53.7" y="528.05" font-size="6.5" fill="#262626" text-anchor="end" dominant-baseline="central">0.75</text>
<line x1="56.1" x2="59.4" y1="502.9" y2="502.9" stroke="#111" stroke-width="0.9"/>
<text x="53.7" y="502.3" font-size="6.5" fill="#262626" text-anchor="end" dominant-baseline="central">1.00</text>
<line x1="83.1" x2="83.1" y1="611.9" y2="615.2" stroke="#111" stroke-width="0.9"/>
<text x="83.1" y="620.9" font-size="6.8" fill="#262626" text-anchor="middle" dominant-baseline="central">OG1</text>
<line x1="121.3" x2="121.3" y1="611.9" y2="615.2" stroke="#111" stroke-width="0.9"/>
<text x="121.3" y="620.9" font-size="6.8" fill="#262626" text-anchor="middle" dominant-baseline="central">OG2</text>
<line x1="159.5" x2="159.5" y1="611.9" y2="615.2" stroke="#111" stroke-width="0.9"/>
<text x="159.5" y="620.9" font-size="6.8" fill="#262626" text-anchor="middle" dominant-baseline="central">OG3</text>
<text transform="translate(33.6 555.5) rotate(-90)" font-size="8.6" fill="#141414" stroke="#141414" stroke-width="0.15" text-anchor="middle" dominant-baseline="central" textLength="70.8" lengthAdjust="spacingAndGlyphs">Fraction of alternate alleles</text>
<rect x="224.9" y="508.5" width="120.5" height="101.2" fill="#ebebeb"/>
<line x1="224.9" x2="345.4" y1="594.96" y2="594.96" stroke="#f1f1f1" stroke-width="0.4"/>
<line x1="224.9" x2="345.4" y1="571.57" y2="571.57" stroke="#f1f1f1" stroke-width="0.4"/>
<line x1="224.9" x2="345.4" y1="548.18" y2="548.18" stroke="#f1f1f1" stroke-width="0.4"/>
<line x1="224.9" x2="345.4" y1="524.79" y2="524.79" stroke="#f1f1f1" stroke-width="0.4"/>
<line x1="224.9" x2="345.4" y1="606.65" y2="606.65" stroke="#f6f6f6" stroke-width="0.75"/>
<line x1="224.9" x2="345.4" y1="583.26" y2="583.26" stroke="#f6f6f6" stroke-width="0.75"/>
<line x1="224.9" x2="345.4" y1="559.88" y2="559.88" stroke="#f6f6f6" stroke-width="0.75"/>
<line x1="224.9" x2="345.4" y1="536.49" y2="536.49" stroke="#f6f6f6" stroke-width="0.75"/>
<line x1="224.9" x2="345.4" y1="513.1" y2="513.1" stroke="#f6f6f6" stroke-width="0.75"/>
<line x1="246.1" x2="246.1" y1="508.5" y2="609.7" stroke="#f6f6f6" stroke-width="0.75"/>
<line x1="284.1" x2="284.1" y1="508.5" y2="609.7" stroke="#f6f6f6" stroke-width="0.75"/>
<line x1="322.3" x2="322.3" y1="508.5" y2="609.7" stroke="#f6f6f6" stroke-width="0.75"/>
<path d="M284.1 513.57 C296.83 513.57 309.57 536.96 322.3 536.96 L322.3 606.65 C309.57 606.65 296.83 514.04 284.1 514.04 Z" fill="#80cdbf" fill-opacity="0.5" stroke="#6e6e6e" stroke-opacity="0.6" stroke-width="0.45"/>
<path d="M246.1 589.34 C258.77 589.34 271.43 514.04 284.1 514.04 L284.1 531.81 C271.43 531.81 258.77 589.34 246.1 589.34 Z" fill="#bcbcae" fill-opacity="0.5" stroke="#6e6e6e" stroke-opacity="0.6" stroke-width="0.45" stroke-dasharray="1.6 0.9"/>
<path d="M284.1 514.04 C296.83 514.04 309.57 514.04 322.3 514.04 L322.3 531.81 C309.57 531.81 296.83 531.81 284.1 531.81 Z" fill="#bcbcae" fill-opacity="0.5" stroke="#6e6e6e" stroke-opacity="0.6" stroke-width="0.45" stroke-dasharray="1.6 0.9"/>
<path d="M246.1 589.34 C258.77 589.34 271.43 531.81 284.1 531.81 L284.1 599.17 C271.43 599.17 258.77 589.34 246.1 589.34 Z" fill="#efdfbb" fill-opacity="0.5" stroke="#6e6e6e" stroke-opacity="0.6" stroke-width="0.45" stroke-dasharray="1.6 0.9"/>
<path d="M284.1 531.81 C296.83 531.81 309.57 514.04 322.3 514.04 L322.3 531.81 C309.57 531.81 296.83 599.17 284.1 599.17 Z" fill="#efdfbb" fill-opacity="0.5" stroke="#6e6e6e" stroke-opacity="0.6" stroke-width="0.45" stroke-dasharray="1.6 0.9"/>
<path d="M246.1 589.06 C258.77 589.06 271.43 598.7 284.1 598.7 L284.1 606.65 C271.43 606.65 258.77 601.97 246.1 601.97 Z" fill="#cd98d3" fill-opacity="0.5" stroke="#6e6e6e" stroke-opacity="0.6" stroke-width="0.45"/>
<path d="M284.1 598.7 C296.83 598.7 309.57 531.81 322.3 531.81 L322.3 535.08 C309.57 535.08 296.83 599.91 284.1 599.91 Z" fill="#cd98d3" fill-opacity="0.5" stroke="#6e6e6e" stroke-opacity="0.6" stroke-width="0.45"/>
<path d="M246.1 602.44 C258.77 602.44 271.43 513.85 284.1 513.85 L284.1 514.5 C271.43 514.5 258.77 603.84 246.1 603.84 Z" fill="#ffe968" fill-opacity="0.5" stroke="#6e6e6e" stroke-opacity="0.6" stroke-width="0.45" stroke-dasharray="1.6 0.9"/>
<path d="M284.1 513.85 C296.83 513.85 309.57 534.15 322.3 534.15 L322.3 535.55 C309.57 535.55 296.83 514.5 284.1 514.5 Z" fill="#ffe968" fill-opacity="0.5" stroke="#6e6e6e" stroke-opacity="0.6" stroke-width="0.45" stroke-dasharray="1.6 0.9"/>
<text x="284.1" y="513.8" font-size="4.8" fill="#707070" text-anchor="middle" dominant-baseline="central">0.3%</text>
<text x="284.1" y="523.16" font-size="4.8" fill="#707070" text-anchor="middle" dominant-baseline="central">17.5%</text>
<text x="284.1" y="566.19" font-size="4.8" fill="#707070" text-anchor="middle" dominant-baseline="central">73%</text>
<text x="284.1" y="603.14" font-size="4.8" fill="#707070" text-anchor="middle" dominant-baseline="central">7.7%</text>
<text x="246.1" y="595.66" font-size="4.8" fill="#707070" text-anchor="middle" dominant-baseline="central">12.6%</text>
<text x="246.1" y="605.48" font-size="4.8" fill="#707070" text-anchor="middle" dominant-baseline="central">4.3%</text>
<text x="322.3" y="523.16" font-size="4.8" fill="#707070" text-anchor="middle" dominant-baseline="central">19.3%</text>
<text x="322.3" y="535.78" font-size="4.8" fill="#707070" text-anchor="middle" dominant-baseline="central">3.9%</text>
<text x="322.3" y="572.74" font-size="4.8" fill="#707070" text-anchor="middle" dominant-baseline="central">74%</text>
<line x1="223" x2="223" y1="508" y2="612.05" stroke="#111" stroke-width="1.35"/>
<line x1="222.35" x2="345.4" y1="611.4" y2="611.4" stroke="#111" stroke-width="1.35"/>
<line x1="219.7" x2="223" y1="606.65" y2="606.65" stroke="#111" stroke-width="0.9"/>
<text x="217.3" y="606.05" font-size="6.5" fill="#262626" text-anchor="end" dominant-baseline="central">0.00</text>
<line x1="219.7" x2="223" y1="583.26" y2="583.26" stroke="#111" stroke-width="0.9"/>
<text x="217.3" y="582.66" font-size="6.5" fill="#262626" text-anchor="end" dominant-baseline="central">0.25</text>
<line x1="219.7" x2="223" y1="559.88" y2="559.88" stroke="#111" stroke-width="0.9"/>
<text x="217.3" y="559.27" font-size="6.5" fill="#262626" text-anchor="end" dominant-baseline="central">0.50</text>
<line x1="219.7" x2="223" y1="536.49" y2="536.49" stroke="#111" stroke-width="0.9"/>
<text x="217.3" y="535.89" font-size="6.5" fill="#262626" text-anchor="end" dominant-baseline="central">0.75</text>
<line x1="219.7" x2="223" y1="513.1" y2="513.1" stroke="#111" stroke-width="0.9"/>
<text x="217.3" y="512.5" font-size="6.5" fill="#262626" text-anchor="end" dominant-baseline="central">1.00</text>
<line x1="246.1" x2="246.1" y1="611.4" y2="614.7" stroke="#111" stroke-width="0.9"/>
<text x="246.1" y="621.6" font-size="6.8" fill="#262626" text-anchor="middle" dominant-baseline="central">OG1</text>
<line x1="284.1" x2="284.1" y1="611.4" y2="614.7" stroke="#111" stroke-width="0.9"/>
<text x="284.1" y="621.6" font-size="6.8" fill="#262626" text-anchor="middle" dominant-baseline="central">OG2</text>
<line x1="322.3" x2="322.3" y1="611.4" y2="614.7" stroke="#111" stroke-width="0.9"/>
<text x="322.3" y="621.6" font-size="6.8" fill="#262626" text-anchor="middle" dominant-baseline="central">OG3</text>
<text transform="translate(196.2 560.45) rotate(-90)" font-size="8.6" fill="#141414" stroke="#141414" stroke-width="0.15" text-anchor="middle" dominant-baseline="central" textLength="70.8" lengthAdjust="spacingAndGlyphs">Fraction of alternate alleles</text>
<rect x="392.7" y="507.5" width="120" height="102.1" fill="#ebebeb"/>
<line x1="392.7" x2="512.7" y1="595.28" y2="595.28" stroke="#f1f1f1" stroke-width="0.4"/>
<line x1="392.7" x2="512.7" y1="571.54" y2="571.54" stroke="#f1f1f1" stroke-width="0.4"/>
<line x1="392.7" x2="512.7" y1="547.81" y2="547.81" stroke="#f1f1f1" stroke-width="0.4"/>
<line x1="392.7" x2="512.7" y1="524.07" y2="524.07" stroke="#f1f1f1" stroke-width="0.4"/>
<line x1="392.7" x2="512.7" y1="607.15" y2="607.15" stroke="#f6f6f6" stroke-width="0.75"/>
<line x1="392.7" x2="512.7" y1="583.41" y2="583.41" stroke="#f6f6f6" stroke-width="0.75"/>
<line x1="392.7" x2="512.7" y1="559.67" y2="559.67" stroke="#f6f6f6" stroke-width="0.75"/>
<line x1="392.7" x2="512.7" y1="535.94" y2="535.94" stroke="#f6f6f6" stroke-width="0.75"/>
<line x1="392.7" x2="512.7" y1="512.2" y2="512.2" stroke="#f6f6f6" stroke-width="0.75"/>
<line x1="414" x2="414" y1="507.5" y2="609.6" stroke="#f6f6f6" stroke-width="0.75"/>
<line x1="452" x2="452" y1="507.5" y2="609.6" stroke="#f6f6f6" stroke-width="0.75"/>
<line x1="490" x2="490" y1="507.5" y2="609.6" stroke="#f6f6f6" stroke-width="0.75"/>
<path d="M452 521.22 C464.67 521.22 477.33 536.89 490 536.89 L490 607.15 C477.33 607.15 464.67 521.22 452 521.22 Z" fill="#80cdbf" fill-opacity="0.5" stroke="#6e6e6e" stroke-opacity="0.6" stroke-width="0.45"/>
<path d="M414 607.15 C426.67 607.15 439.33 521.22 452 521.22 L452 537.84 C439.33 537.84 426.67 607.15 414 607.15 Z" fill="#dccf60" fill-opacity="0.5" stroke="#6e6e6e" stroke-opacity="0.6" stroke-width="0.45" stroke-dasharray="1.6 0.9"/>
<path d="M452 521.22 C464.67 521.22 477.33 518.85 490 518.85 L490 536.89 C477.33 536.89 464.67 537.84 452 537.84 Z" fill="#dccf60" fill-opacity="0.5" stroke="#6e6e6e" stroke-opacity="0.6" stroke-width="0.45" stroke-dasharray="1.6 0.9"/>
<path d="M414 607.15 C426.67 607.15 439.33 537.84 452 537.84 L452 607.15 C439.33 607.15 426.67 607.15 414 607.15 Z" fill="#ffe968" fill-opacity="0.5" stroke="#6e6e6e" stroke-opacity="0.6" stroke-width="0.45" stroke-dasharray="1.6 0.9"/>
<path d="M452 537.84 C464.67 537.84 477.33 518.85 490 518.85 L490 518.85 C477.33 518.85 464.67 607.15 452 607.15 Z" fill="#ffe968" fill-opacity="0.5" stroke="#6e6e6e" stroke-opacity="0.6" stroke-width="0.45" stroke-dasharray="1.6 0.9"/>
<text x="452" y="529.99" font-size="4.8" fill="#707070" text-anchor="middle" dominant-baseline="central">17.5%</text>
<text x="452" y="573.19" font-size="4.8" fill="#707070" text-anchor="middle" dominant-baseline="central">72%</text>
<text x="490" y="528.57" font-size="4.8" fill="#707070" text-anchor="middle" dominant-baseline="central">19.3%</text>
<text x="490" y="572.72" font-size="4.8" fill="#707070" text-anchor="middle" dominant-baseline="central">74%</text>
<line x1="390.8" x2="390.8" y1="507" y2="611.95" stroke="#111" stroke-width="1.35"/>
<line x1="390.15" x2="512.7" y1="611.3" y2="611.3" stroke="#111" stroke-width="1.35"/>
<line x1="387.5" x2="390.8" y1="607.15" y2="607.15" stroke="#111" stroke-width="0.9"/>
<text x="385.1" y="606.55" font-size="6.5" fill="#262626" text-anchor="end" dominant-baseline="central">0.00</text>
<line x1="387.5" x2="390.8" y1="583.41" y2="583.41" stroke="#111" stroke-width="0.9"/>
<text x="385.1" y="582.81" font-size="6.5" fill="#262626" text-anchor="end" dominant-baseline="central">0.25</text>
<line x1="387.5" x2="390.8" y1="559.67" y2="559.67" stroke="#111" stroke-width="0.9"/>
<text x="385.1" y="559.07" font-size="6.5" fill="#262626" text-anchor="end" dominant-baseline="central">0.50</text>
<line x1="387.5" x2="390.8" y1="535.94" y2="535.94" stroke="#111" stroke-width="0.9"/>
<text x="385.1" y="535.34" font-size="6.5" fill="#262626" text-anchor="end" dominant-baseline="central">0.75</text>
<line x1="387.5" x2="390.8" y1="512.2" y2="512.2" stroke="#111" stroke-width="0.9"/>
<text x="385.1" y="511.6" font-size="6.5" fill="#262626" text-anchor="end" dominant-baseline="central">1.00</text>
<line x1="414" x2="414" y1="611.3" y2="614.6" stroke="#111" stroke-width="0.9"/>
<text x="414" y="620.8" font-size="6.8" fill="#262626" text-anchor="middle" dominant-baseline="central">OG1</text>
<line x1="452" x2="452" y1="611.3" y2="614.6" stroke="#111" stroke-width="0.9"/>
<text x="452" y="620.8" font-size="6.8" fill="#262626" text-anchor="middle" dominant-baseline="central">OG2</text>
<line x1="490" x2="490" y1="611.3" y2="614.6" stroke="#111" stroke-width="0.9"/>
<text x="490" y="620.8" font-size="6.8" fill="#262626" text-anchor="middle" dominant-baseline="central">OG3</text>
<text transform="translate(363.6 559.9) rotate(-90)" font-size="8.6" fill="#141414" stroke="#141414" stroke-width="0.15" text-anchor="middle" dominant-baseline="central" textLength="70.8" lengthAdjust="spacingAndGlyphs">Fraction of alternate alleles</text>
<rect x="242.4" y="634.55" width="5.1" height="5.1" fill="#b6dfd8" stroke="#555" stroke-width="0.6"/>
<line x1="244.95" x2="244.95" y1="634.9" y2="639.3" stroke="#fff" stroke-opacity="0.85" stroke-width="0.5"/>
<line x1="242.8" x2="247.1" y1="637.1" y2="637.1" stroke="#fff" stroke-opacity="0.85" stroke-width="0.5"/>
<text x="250.8" y="637.3" font-size="5.3" fill="#333" dominant-baseline="central">10 (BCL9...BRD4)</text>
<rect x="302.5" y="634.55" width="5.1" height="5.1" fill="#ecc8d6" stroke="#555" stroke-width="0.6" stroke-dasharray="1.1 0.8"/>
<line x1="305.05" x2="305.05" y1="634.9" y2="639.3" stroke="#fff" stroke-opacity="0.85" stroke-width="0.5"/>
<line x1="302.9" x2="307.2" y1="637.1" y2="637.1" stroke="#fff" stroke-opacity="0.85" stroke-width="0.5"/>
<text x="309.9" y="637.3" font-size="5.3" fill="#333" dominant-baseline="central">11 (ARHGEF12)</text>
<text x="218.2" y="648.5" font-size="5.2" fill="#444" dominant-baseline="central">cluster</text>
<rect x="242.4" y="644.05" width="5.1" height="5.1" fill="#d8d8d0" stroke="#555" stroke-width="0.6" stroke-dasharray="1.1 0.8"/>
<line x1="244.95" x2="244.95" y1="644.4" y2="648.8" stroke="#fff" stroke-opacity="0.85" stroke-width="0.5"/>
<line x1="242.8" x2="247.1" y1="646.6" y2="646.6" stroke="#fff" stroke-opacity="0.85" stroke-width="0.5"/>
<text x="250.8" y="646.7" font-size="5.3" fill="#333" dominant-baseline="central">4 (CARD11;CARS;</text>
<text x="250.8" y="652.6" font-size="5.3" fill="#333" dominant-baseline="central">MED12;MYH11)</text>
<rect x="302.5" y="644.05" width="5.1" height="5.1" fill="#ebe4cc" stroke="#555" stroke-width="0.6" stroke-dasharray="1.1 0.8"/>
<line x1="305.05" x2="305.05" y1="644.4" y2="648.8" stroke="#fff" stroke-opacity="0.85" stroke-width="0.5"/>
<line x1="302.9" x2="307.2" y1="646.6" y2="646.6" stroke="#fff" stroke-opacity="0.85" stroke-width="0.5"/>
<text x="309.9" y="646.7" font-size="5.3" fill="#333" dominant-baseline="central">5 (TP53...EP300)</text>
<rect x="242.4" y="658.95" width="5.1" height="5.1" fill="#dcbede" stroke="#555" stroke-width="0.6"/>
<line x1="244.95" x2="244.95" y1="659.3" y2="663.7" stroke="#fff" stroke-opacity="0.85" stroke-width="0.5"/>
<line x1="242.8" x2="247.1" y1="661.5" y2="661.5" stroke="#fff" stroke-opacity="0.85" stroke-width="0.5"/>
<text x="250.8" y="661.7" font-size="5.3" fill="#333" dominant-baseline="central">6 (THRAP3)</text>
<rect x="302.5" y="658.95" width="5.1" height="5.1" fill="#f3e58c" stroke="#555" stroke-width="0.6" stroke-dasharray="1.1 0.8"/>
<line x1="305.05" x2="305.05" y1="659.3" y2="663.7" stroke="#fff" stroke-opacity="0.85" stroke-width="0.5"/>
<line x1="302.9" x2="307.2" y1="661.5" y2="661.5" stroke="#fff" stroke-opacity="0.85" stroke-width="0.5"/>
<text x="309.9" y="661.7" font-size="5.3" fill="#333" dominant-baseline="central">9 (ZNF521)</text>
<text x="371.3" y="640.5" font-size="5.2" fill="#444" dominant-baseline="central">cluster</text>
<rect x="394.9" y="634.15" width="5.1" height="5.1" fill="#b6dfd8" stroke="#555" stroke-width="0.6"/>
<line x1="397.45" x2="397.45" y1="634.5" y2="638.9" stroke="#fff" stroke-opacity="0.85" stroke-width="0.5"/>
<line x1="395.3" x2="399.6" y1="636.7" y2="636.7" stroke="#fff" stroke-opacity="0.85" stroke-width="0.5"/>
<text x="403.4" y="636.9" font-size="5.3" fill="#333" dominant-baseline="central">10 (PIK3CD...EGFR)</text>
<rect x="458.1" y="634.15" width="5.1" height="5.1" fill="#e3dca6" stroke="#555" stroke-width="0.6" stroke-dasharray="1.1 0.8"/>
<line x1="460.65" x2="460.65" y1="634.5" y2="638.9" stroke="#fff" stroke-opacity="0.85" stroke-width="0.5"/>
<line x1="458.5" x2="462.8" y1="636.7" y2="636.7" stroke="#fff" stroke-opacity="0.85" stroke-width="0.5"/>
<text x="465.8" y="636.9" font-size="5.3" fill="#333" dominant-baseline="central">4 (MST1R;PIK3CG)</text>
<rect x="394.9" y="643.35" width="5.1" height="5.1" fill="#f4e9a0" stroke="#555" stroke-width="0.6" stroke-dasharray="1.1 0.8"/>
<line x1="397.45" x2="397.45" y1="643.7" y2="648.1" stroke="#fff" stroke-opacity="0.85" stroke-width="0.5"/>
<line x1="395.3" x2="399.6" y1="645.9" y2="645.9" stroke="#fff" stroke-opacity="0.85" stroke-width="0.5"/>
<text x="403.4" y="646.1" font-size="5.3" fill="#333" dominant-baseline="central">5 (OSMR...RPTOR)</text>
<text x="7.0" y="16.6" font-size="11.2" font-weight="bold" fill="#000" stroke="#000" stroke-width="0.22">A</text>
<text x="120.4" y="14.9" font-size="8.3" fill="#1a1a1a" text-anchor="middle" textLength="32.4" lengthAdjust="spacingAndGlyphs">all genes</text>
<text x="283.8" y="15.8" font-size="8.3" fill="#1a1a1a" text-anchor="middle" textLength="49.4" lengthAdjust="spacingAndGlyphs">cancer genes</text>
<text x="451.9" y="15.1" font-size="8.3" fill="#1a1a1a" text-anchor="middle" textLength="61.3" lengthAdjust="spacingAndGlyphs">druggable genes</text>
<text x="6.8" y="79.3" font-size="9.2" fill="#111">316</text>
<text x="6.8" y="230.7" font-size="9.2" fill="#111">318</text>
<text x="6.8" y="393.8" font-size="9.2" fill="#111">337</text>
<text x="6.8" y="557.5" font-size="9.2" fill="#111">514</text>
<rect x="0" y="0" width="520" height="1.1" fill="#000"/>
<rect x="0" y="0" width="1.2" height="672" fill="#000"/>
<rect x="518.9" y="0" width="1.1" height="672" fill="#000"/>
<rect x="0" y="670.6" width="520" height="1.4" fill="#000"/>
</svg></body></html>
